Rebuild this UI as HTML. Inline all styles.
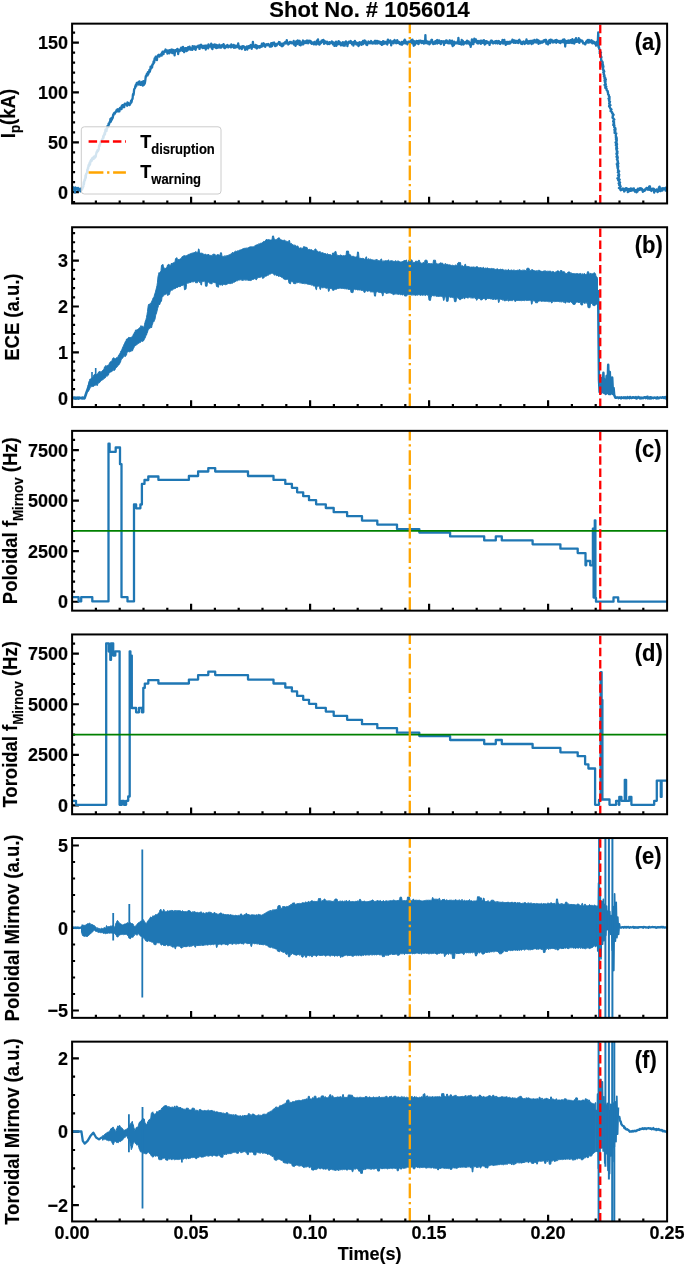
<!DOCTYPE html>
<html><head><meta charset="utf-8"><style>
html,body{margin:0;padding:0;background:#fff;}
svg{display:block;will-change:transform;}
</style></head><body>
<svg width="685" height="1265" viewBox="0 0 685 1265" font-family="'Liberation Sans', sans-serif" font-weight="bold"><style>text{stroke:#000;stroke-width:0.15px;}</style>
<rect width="685" height="1265" fill="#fff"/>
<defs>
<clipPath id="c0"><rect x="72.1" y="23.65" width="595" height="179.8"/></clipPath>
<clipPath id="c1"><rect x="72.1" y="227.25" width="595" height="179.8"/></clipPath>
<clipPath id="c2"><rect x="72.1" y="430.85" width="595" height="179.8"/></clipPath>
<clipPath id="c3"><rect x="72.1" y="634.45" width="595" height="179.8"/></clipPath>
<clipPath id="c4"><rect x="72.1" y="838.05" width="595" height="179.8"/></clipPath>
<clipPath id="c5"><rect x="72.1" y="1041.65" width="595" height="179.8"/></clipPath>
</defs>
<path d="M72.1 192.15h6.8 M72.1 142.3h6.8 M72.1 92.4h6.8 M72.1 42.65h6.8 M72.1 202.12h3.0 M72.1 182.18h3.0 M72.1 172.22h3.0 M72.1 162.25h3.0 M72.1 152.28h3.0 M72.1 132.35h3.0 M72.1 122.38h3.0 M72.1 112.41h3.0 M72.1 102.45h3.0 M72.1 82.51h3.0 M72.1 72.55h3.0 M72.1 62.58h3.0 M72.1 52.61h3.0 M72.1 32.68h3.0 M95.9 203.45v-3.0 M119.7 203.45v-3.0 M143.5 203.45v-3.0 M167.3 203.45v-3.0 M191.1 203.45v-6.8 M214.9 203.45v-3.0 M238.7 203.45v-3.0 M262.5 203.45v-3.0 M286.3 203.45v-3.0 M310.1 203.45v-6.8 M333.9 203.45v-3.0 M357.7 203.45v-3.0 M381.5 203.45v-3.0 M405.3 203.45v-3.0 M429.1 203.45v-6.8 M452.9 203.45v-3.0 M476.7 203.45v-3.0 M500.5 203.45v-3.0 M524.3 203.45v-3.0 M548.1 203.45v-6.8 M571.9 203.45v-3.0 M595.7 203.45v-3.0 M619.5 203.45v-3.0 M643.3 203.45v-3.0" stroke="#000" stroke-width="2.2" fill="none"/>
<path d="M72.1 398.24h6.8 M72.1 352.36h6.8 M72.1 306.48h6.8 M72.1 260.6h6.8 M72.1 389.06h3.0 M72.1 379.89h3.0 M72.1 370.71h3.0 M72.1 361.54h3.0 M72.1 343.18h3.0 M72.1 334.01h3.0 M72.1 324.83h3.0 M72.1 315.66h3.0 M72.1 297.3h3.0 M72.1 288.13h3.0 M72.1 278.95h3.0 M72.1 269.78h3.0 M72.1 251.42h3.0 M72.1 242.25h3.0 M72.1 233.07h3.0 M95.9 407.05v-3.0 M119.7 407.05v-3.0 M143.5 407.05v-3.0 M167.3 407.05v-3.0 M191.1 407.05v-6.8 M214.9 407.05v-3.0 M238.7 407.05v-3.0 M262.5 407.05v-3.0 M286.3 407.05v-3.0 M310.1 407.05v-6.8 M333.9 407.05v-3.0 M357.7 407.05v-3.0 M381.5 407.05v-3.0 M405.3 407.05v-3.0 M429.1 407.05v-6.8 M452.9 407.05v-3.0 M476.7 407.05v-3.0 M500.5 407.05v-3.0 M524.3 407.05v-3.0 M548.1 407.05v-6.8 M571.9 407.05v-3.0 M595.7 407.05v-3.0 M619.5 407.05v-3.0 M643.3 407.05v-3.0" stroke="#000" stroke-width="2.2" fill="none"/>
<path d="M72.1 601.77h6.8 M72.1 551.2h6.8 M72.1 500.64h6.8 M72.1 450.07h6.8 M72.1 591.66h3.0 M72.1 581.54h3.0 M72.1 571.43h3.0 M72.1 561.32h3.0 M72.1 541.09h3.0 M72.1 530.98h3.0 M72.1 520.87h3.0 M72.1 510.75h3.0 M72.1 490.53h3.0 M72.1 480.41h3.0 M72.1 470.3h3.0 M72.1 460.19h3.0 M72.1 439.96h3.0 M95.9 610.65v-3.0 M119.7 610.65v-3.0 M143.5 610.65v-3.0 M167.3 610.65v-3.0 M191.1 610.65v-6.8 M214.9 610.65v-3.0 M238.7 610.65v-3.0 M262.5 610.65v-3.0 M286.3 610.65v-3.0 M310.1 610.65v-6.8 M333.9 610.65v-3.0 M357.7 610.65v-3.0 M381.5 610.65v-3.0 M405.3 610.65v-3.0 M429.1 610.65v-6.8 M452.9 610.65v-3.0 M476.7 610.65v-3.0 M500.5 610.65v-3.0 M524.3 610.65v-3.0 M548.1 610.65v-6.8 M571.9 610.65v-3.0 M595.7 610.65v-3.0 M619.5 610.65v-3.0 M643.3 610.65v-3.0" stroke="#000" stroke-width="2.2" fill="none"/>
<path d="M72.1 805.37h6.8 M72.1 754.8h6.8 M72.1 704.24h6.8 M72.1 653.67h6.8 M72.1 795.26h3.0 M72.1 785.14h3.0 M72.1 775.03h3.0 M72.1 764.92h3.0 M72.1 744.69h3.0 M72.1 734.58h3.0 M72.1 724.47h3.0 M72.1 714.35h3.0 M72.1 694.13h3.0 M72.1 684.01h3.0 M72.1 673.9h3.0 M72.1 663.79h3.0 M72.1 643.56h3.0 M95.9 814.25v-3.0 M119.7 814.25v-3.0 M143.5 814.25v-3.0 M167.3 814.25v-3.0 M191.1 814.25v-6.8 M214.9 814.25v-3.0 M238.7 814.25v-3.0 M262.5 814.25v-3.0 M286.3 814.25v-3.0 M310.1 814.25v-6.8 M333.9 814.25v-3.0 M357.7 814.25v-3.0 M381.5 814.25v-3.0 M405.3 814.25v-3.0 M429.1 814.25v-6.8 M452.9 814.25v-3.0 M476.7 814.25v-3.0 M500.5 814.25v-3.0 M524.3 814.25v-3.0 M548.1 814.25v-6.8 M571.9 814.25v-3.0 M595.7 814.25v-3.0 M619.5 814.25v-3.0 M643.3 814.25v-3.0" stroke="#000" stroke-width="2.2" fill="none"/>
<path d="M72.1 1010.5h6.8 M72.1 928h6.8 M72.1 845.5h6.8 M72.1 994h3.0 M72.1 977.5h3.0 M72.1 961h3.0 M72.1 944.5h3.0 M72.1 911.5h3.0 M72.1 895h3.0 M72.1 878.5h3.0 M72.1 862h3.0 M95.9 1017.85v-3.0 M119.7 1017.85v-3.0 M143.5 1017.85v-3.0 M167.3 1017.85v-3.0 M191.1 1017.85v-6.8 M214.9 1017.85v-3.0 M238.7 1017.85v-3.0 M262.5 1017.85v-3.0 M286.3 1017.85v-3.0 M310.1 1017.85v-6.8 M333.9 1017.85v-3.0 M357.7 1017.85v-3.0 M381.5 1017.85v-3.0 M405.3 1017.85v-3.0 M429.1 1017.85v-6.8 M452.9 1017.85v-3.0 M476.7 1017.85v-3.0 M500.5 1017.85v-3.0 M524.3 1017.85v-3.0 M548.1 1017.85v-6.8 M571.9 1017.85v-3.0 M595.7 1017.85v-3.0 M619.5 1017.85v-3.0 M643.3 1017.85v-3.0" stroke="#000" stroke-width="2.2" fill="none"/>
<path d="M72.1 1205.03h6.8 M72.1 1131.67h6.8 M72.1 1058.3h6.8 M72.1 1186.69h3.0 M72.1 1168.35h3.0 M72.1 1150.01h3.0 M72.1 1113.33h3.0 M72.1 1094.99h3.0 M72.1 1076.65h3.0 M95.9 1221.45v-3.0 M119.7 1221.45v-3.0 M143.5 1221.45v-3.0 M167.3 1221.45v-3.0 M191.1 1221.45v-6.8 M214.9 1221.45v-3.0 M238.7 1221.45v-3.0 M262.5 1221.45v-3.0 M286.3 1221.45v-3.0 M310.1 1221.45v-6.8 M333.9 1221.45v-3.0 M357.7 1221.45v-3.0 M381.5 1221.45v-3.0 M405.3 1221.45v-3.0 M429.1 1221.45v-6.8 M452.9 1221.45v-3.0 M476.7 1221.45v-3.0 M500.5 1221.45v-3.0 M524.3 1221.45v-3.0 M548.1 1221.45v-6.8 M571.9 1221.45v-3.0 M595.7 1221.45v-3.0 M619.5 1221.45v-3.0 M643.3 1221.45v-3.0" stroke="#000" stroke-width="2.2" fill="none"/>
<polyline clip-path="url(#c0)" fill="none" stroke="#1f77b4" stroke-width="2.3" stroke-linejoin="round"  points="72.6,187.59 72.9,189.49 73.2,189.22 73.5,187.41 73.8,189.95 74.1,189.33 74.4,188.79 74.7,188.58 75,192.51 75.3,188.91 75.6,187.5 75.9,188.37 76.2,188.93 76.5,188.92 76.8,189.22 77.1,188.25 77.4,189.84 77.7,188.82 78,187.94 78.3,188.48 78.6,188.92 78.9,190.15 79.2,189.78 79.5,188.96 79.8,189.32 80.1,189.52 80.4,191.34 80.7,188.68 81,189.77 81.3,190.03 81.6,188.89 81.9,189.69 82.2,188.99 82.5,188.54 82.8,187.31 83.1,186.82 83.4,186.35 83.7,182.17 84,184.12 84.3,180.89 84.6,179.54 84.9,180.68 85.2,178.77 85.5,175.45 85.8,177.88 86.1,173.81 86.4,173.79 86.7,172.98 87,172.68 87.3,169.74 87.6,170.72 87.9,167.75 88.2,168.48 88.5,165.48 88.8,164.71 89.1,165.87 89.4,163.56 89.7,162.55 90,164.57 90.3,162.43 90.6,160.62 90.9,161.51 91.2,159.54 91.5,161.09 91.8,160.65 92.1,158.34 92.4,158.07 92.7,159.07 93,158.77 93.3,157.31 93.6,158.99 93.9,156.57 94.2,157.87 94.5,157.32 94.8,157.13 95.1,157.52 95.4,155.78 95.7,156.74 96,154.76 96.3,153.41 96.6,152.13 96.9,151.5 97.2,152.18 97.5,150.16 97.8,150.48 98.1,150.83 98.4,150.01 98.7,149.64 99,146.63 99.3,145.2 99.6,146.07 99.9,144.27 100.2,144.06 100.5,142.03 100.8,142.4 101.1,142.09 101.4,140.98 101.7,140.28 102,139.93 102.3,139.22 102.6,138.66 102.9,138.63 103.2,136.08 103.5,137.9 103.8,135.26 104.1,135.58 104.4,133.69 104.7,132.63 105,134.29 105.3,130.9 105.6,129.32 105.9,129.5 106.2,129.4 106.5,131.21 106.8,128.94 107.1,128.65 107.4,126.13 107.7,126.82 108,126.11 108.3,126.88 108.6,123.6 108.9,124.47 109.2,123.75 109.5,122.17 109.8,122.46 110.1,121.68 110.4,119.03 110.7,121.98 111,121.08 111.3,119.56 111.6,117.79 111.9,119.7 112.2,118.39 112.5,118.13 112.8,117.6 113.1,114.91 113.4,115.57 113.7,113.67 114,113.74 114.3,112.84 114.6,112.77 114.9,113.67 115.2,112.69 115.5,112.02 115.8,111.81 116.1,111.93 116.4,110.41 116.7,110.29 117,110.2 117.3,109.43 117.6,110.07 117.9,109.32 118.2,111.47 118.5,110.72 118.8,109.98 119.1,109.24 119.4,111.38 119.7,108.79 120,107.92 120.3,108.47 120.6,108.17 120.9,108.75 121.2,107.22 121.5,109.19 121.8,105.93 122.1,107.55 122.4,105.16 122.7,107.42 123,105.24 123.3,105.27 123.6,105.92 123.9,106.06 124.2,107.18 124.5,104.29 124.8,103.57 125.1,104.67 125.4,104.43 125.7,104.05 126,103.9 126.3,104.36 126.6,104.12 126.9,105.06 127.2,105.74 127.5,102.45 127.8,104.4 128.1,103.73 128.4,104.54 128.7,103.1 129,104.13 129.3,103.66 129.6,105.02 129.9,104.46 130.2,103.49 130.5,103.62 130.8,102.47 131.1,100.7 131.4,102.39 131.7,101.45 132,99.38 132.3,99.36 132.6,98.53 132.9,94.84 133.2,93.91 133.5,94.95 133.8,93.09 134.1,89.67 134.4,88.81 134.7,88.46 135,88.03 135.3,86.23 135.6,86.75 135.9,84.73 136.2,84.49 136.5,85.62 136.8,82.93 137.1,82.97 137.4,83.36 137.7,83.75 138,82.64 138.3,82.84 138.6,81.89 138.9,84.56 139.2,83.32 139.5,81.34 139.8,82.36 140.1,83.29 140.4,83.63 140.7,84.9 141,84.82 141.3,82.85 141.6,83.47 141.9,81.88 142.2,83.24 142.5,82.87 142.8,85.7 143.1,83.05 143.4,81.21 143.7,83.27 144,84.75 144.3,83.39 144.6,83.86 144.9,82.87 145.2,81.03 145.5,78.64 145.8,76.13 146.1,76.81 146.4,75.09 146.7,74.47 147,73.65 147.3,74.37 147.6,75.32 147.9,72.14 148.2,73.08 148.5,73.68 148.8,72.3 149.1,72.14 149.4,69.95 149.7,71.89 150,70.97 150.3,69.75 150.6,66.73 150.9,66.71 151.2,68.1 151.5,68.2 151.8,66.46 152.1,67.27 152.4,64.47 152.7,64.72 153,64.41 153.3,63.66 153.6,61.44 153.9,62.91 154.2,62.38 154.5,59.17 154.8,58.2 155.1,59.39 155.4,58.81 155.7,56.72 156,59.51 156.3,58.78 156.6,57.86 156.9,60.03 157.2,57.31 157.5,56.1 157.8,56.7 158.1,55.36 158.4,55.05 158.7,55.95 159,54.75 159.3,54.95 159.6,56.54 159.9,55.38 160.2,55.3 160.5,54.84 160.8,54.61 161.1,55.26 161.4,53.54 161.7,55.66 162,52.79 162.3,53.02 162.6,51.55 162.9,52.21 163.2,53.03 163.5,54.16 163.8,51.56 164.1,52.01 164.4,51.53 164.7,51.19 165,50.58 165.3,51.74 165.6,49.52 165.9,51.58 166.2,51.31 166.5,50.75 166.8,50.65 167.1,50.49 167.4,53.61 167.7,50.57 168,53.22 168.3,52.16 168.6,51.11 168.9,50.37 169.2,52.53 169.5,53.24 169.8,50.26 170.1,50.9 170.4,52.14 170.7,51.03 171,52.13 171.3,49.71 171.6,51.05 171.9,49.75 172.2,53.06 172.5,50.59 172.8,49.74 173.1,51.48 173.4,51.5 173.7,53 174,50.39 174.3,50.95 174.6,55.33 174.9,51.95 175.2,50.13 175.5,51.22 175.8,51.03 176.1,50.13 176.4,50.2 176.7,49.98 177,49.14 177.3,51.42 177.6,48.94 177.9,51.39 178.2,54.02 178.5,50.57 178.8,49.93 179.1,50.52 179.4,50.83 179.7,51.11 180,50.22 180.3,50.48 180.6,48.68 180.9,49.47 181.2,47.59 181.5,49.89 181.8,49.08 182.1,48.76 182.4,50.75 182.7,50.55 183,46.89 183.3,49.56 183.6,48.13 183.9,50.67 184.2,52.15 184.5,48.7 184.8,48.78 185.1,48.11 185.4,49.07 185.7,49.79 186,50.63 186.3,48.24 186.6,51.11 186.9,48.5 187.2,49.82 187.5,50.33 187.8,49.33 188.1,47.07 188.4,47.53 188.7,47.57 189,48 189.3,49.45 189.6,46.66 189.9,48.48 190.2,48.92 190.5,48.73 190.8,48.54 191.1,49.72 191.4,48.47 191.7,48.9 192,48.52 192.3,49.83 192.6,46.1 192.9,48.91 193.2,47.38 193.5,47.39 193.8,47.2 194.1,46.4 194.4,47.63 194.7,46.95 195,49.07 195.3,46.75 195.6,49.84 195.9,48.23 196.2,47.81 196.5,47.02 196.8,47.08 197.1,46.38 197.4,46.71 197.7,47.13 198,47.13 198.3,45.61 198.6,46.99 198.9,46.32 199.2,47.13 199.5,48.96 199.8,47.29 200.1,46.19 200.4,44.86 200.7,44.87 201,44.67 201.3,47.26 201.6,45.53 201.9,46.51 202.2,45.73 202.5,46.43 202.8,48.18 203.1,45.97 203.4,46.42 203.7,46.09 204,47.83 204.3,46 204.6,45.92 204.9,45.58 205.2,45.62 205.5,47.28 205.8,49.51 206.1,45.61 206.4,47.56 206.7,47.01 207,45.71 207.3,46.35 207.6,46.23 207.9,45.39 208.2,48.36 208.5,44.29 208.8,46.15 209.1,45.86 209.4,45.38 209.7,45.79 210,46.65 210.3,45.63 210.6,45.88 210.9,46.63 211.2,43.74 211.5,46.86 211.8,48.23 212.1,46.89 212.4,49.12 212.7,44.79 213,45.73 213.3,44.82 213.6,45.6 213.9,46.96 214.2,45.41 214.5,45.98 214.8,44.45 215.1,46.47 215.4,47.53 215.7,46.11 216,45.82 216.3,48.16 216.6,44.78 216.9,45.07 217.2,45.47 217.5,46.86 217.8,47.69 218.1,46.18 218.4,45.65 218.7,45.62 219,47.06 219.3,44.68 219.6,47.47 219.9,47.5 220.2,46.17 220.5,46.12 220.8,46.62 221.1,47.61 221.4,45.42 221.7,47.34 222,45.83 222.3,45.09 222.6,46.2 222.9,46.09 223.2,44.99 223.5,44.19 223.8,44.69 224.1,47.26 224.4,48.17 224.7,47.22 225,48.17 225.3,46.45 225.6,46.75 225.9,47.33 226.2,45.58 226.5,45.79 226.8,46.6 227.1,45.57 227.4,45 227.7,46.61 228,46.04 228.3,47.43 228.6,46.42 228.9,45.95 229.2,46.57 229.5,46.04 229.8,45.63 230.1,45.85 230.4,46.77 230.7,46.85 231,47.42 231.3,44.37 231.6,45.74 231.9,45.24 232.2,45.86 232.5,45.58 232.8,45.49 233.1,47 233.4,46.46 233.7,44.98 234,47.89 234.3,47.43 234.6,45.86 234.9,47.05 235.2,45.64 235.5,47.63 235.8,46.49 236.1,45.88 236.4,46.56 236.7,45.81 237,47.14 237.3,47.14 237.6,47.05 237.9,46.58 238.2,43.45 238.5,47.04 238.8,45.56 239.1,47.71 239.4,48.61 239.7,47.38 240,46.76 240.3,47.38 240.6,47.72 240.9,47.23 241.2,46.78 241.5,46.62 241.8,49.04 242.1,47.19 242.4,48 242.7,46.27 243,46.28 243.3,46.25 243.6,46.97 243.9,47.3 244.2,47.33 244.5,46.69 244.8,47.22 245.1,49.89 245.4,48 245.7,47.41 246,49.07 246.3,48.69 246.6,47.82 246.9,46.53 247.2,49.49 247.5,47.39 247.8,47.77 248.1,47.33 248.4,46.09 248.7,46.29 249,48.06 249.3,47.73 249.6,47.32 249.9,46.15 250.2,45.34 250.5,46.42 250.8,45.02 251.1,47.32 251.4,47.24 251.7,48.73 252,46.84 252.3,45.51 252.6,44.58 252.9,41.91 253.2,44.87 253.5,45.7 253.8,46.77 254.1,46.51 254.4,46.8 254.7,46.29 255,46.75 255.3,47.43 255.6,44.95 255.9,46.03 256.2,45.32 256.5,48.2 256.8,48.51 257.1,48.13 257.4,45.92 257.7,47.1 258,46.49 258.3,46.95 258.6,46.55 258.9,47.15 259.2,46.08 259.5,47.71 259.8,47.07 260.1,46.62 260.4,46.14 260.7,45.78 261,46.97 261.3,45.98 261.6,46.45 261.9,43.59 262.2,43.78 262.5,46.42 262.8,44.32 263.1,45.74 263.4,45.5 263.7,43.28 264,44.39 264.3,44.88 264.6,44.69 264.9,44.39 265.2,46.85 265.5,45.42 265.8,45.72 266.1,44.81 266.4,44.87 266.7,44.3 267,45.1 267.3,45.24 267.6,44.88 267.9,44.46 268.2,43.95 268.5,45.18 268.8,45.09 269.1,44.66 269.4,44.8 269.7,46.5 270,46.5 270.3,45.53 270.6,46.6 270.9,46.68 271.2,43.23 271.5,45.43 271.8,44.23 272.1,46.1 272.4,44.02 272.7,42.83 273,43.52 273.3,43.92 273.6,43.11 273.9,43.53 274.2,42.51 274.5,43.89 274.8,45.28 275.1,46.11 275.4,44.9 275.7,44.24 276,45.32 276.3,44.98 276.6,45.51 276.9,44.71 277.2,43.62 277.5,44.2 277.8,43.96 278.1,43.59 278.4,43.38 278.7,43.08 279,42.02 279.3,43.45 279.6,42.07 279.9,44.93 280.2,45.02 280.5,43.32 280.8,45.37 281.1,45.42 281.4,44.8 281.7,46.08 282,46.23 282.3,43.55 282.6,45.97 282.9,45.23 283.2,44.64 283.5,45.12 283.8,43.51 284.1,43.29 284.4,42.81 284.7,42.66 285,42.78 285.3,41.92 285.6,42 285.9,43.57 286.2,42.67 286.5,42.88 286.8,40.15 287.1,41.86 287.4,42.04 287.7,43.01 288,42.86 288.3,44.49 288.6,43.16 288.9,43.52 289.2,42.96 289.5,43.47 289.8,42.04 290.1,42.75 290.4,42.15 290.7,41.89 291,42.03 291.3,42.73 291.6,43.26 291.9,43.14 292.2,42.88 292.5,43.16 292.8,42.35 293.1,43.4 293.4,42.53 293.7,40.97 294,44.67 294.3,43.7 294.6,42.39 294.9,44.03 295.2,43.33 295.5,45.89 295.8,43.78 296.1,41.44 296.4,43.29 296.7,42.46 297,44.22 297.3,41.17 297.6,40.47 297.9,42.82 298.2,42.32 298.5,42.45 298.8,40.89 299.1,43.44 299.4,44.71 299.7,40.82 300,43.96 300.3,42.3 300.6,45.44 300.9,43.23 301.2,42.87 301.5,44.09 301.8,43.64 302.1,42.04 302.4,44.3 302.7,41.5 303,40.52 303.3,44.45 303.6,42.49 303.9,41.6 304.2,43.1 304.5,41.29 304.8,41.46 305.1,42.29 305.4,41.94 305.7,41.79 306,43.1 306.3,41.02 306.6,41.91 306.9,42.24 307.2,40.51 307.5,42.37 307.8,41.6 308.1,43.36 308.4,42.91 308.7,42.42 309,40.72 309.3,42.2 309.6,40.84 309.9,41.93 310.2,41.59 310.5,41.04 310.8,43.05 311.1,43.14 311.4,41.87 311.7,43.77 312,43.01 312.3,42.94 312.6,43.48 312.9,42.62 313.2,42.59 313.5,42.7 313.8,44.33 314.1,44.08 314.4,41.94 314.7,44.08 315,42.36 315.3,42.84 315.6,43.01 315.9,42.41 316.2,44.48 316.5,42.44 316.8,40.67 317.1,43.01 317.4,41.68 317.7,42 318,39.37 318.3,43.59 318.6,44.13 318.9,43.87 319.2,44.09 319.5,44.5 319.8,43.09 320.1,43.84 320.4,41.84 320.7,41.67 321,43.09 321.3,42.32 321.6,40.67 321.9,41.75 322.2,41.14 322.5,40.52 322.8,41.81 323.1,41.15 323.4,39.81 323.7,40.27 324,43.78 324.3,40.93 324.6,42.74 324.9,42.91 325.2,43.12 325.5,41.51 325.8,42.26 326.1,42.38 326.4,43.24 326.7,41.86 327,41.78 327.3,43.71 327.6,44.14 327.9,43.53 328.2,42.69 328.5,43.94 328.8,43.76 329.1,44.13 329.4,42.13 329.7,43.36 330,43.48 330.3,42.46 330.6,42.87 330.9,42.47 331.2,42.14 331.5,42.99 331.8,41.39 332.1,42.56 332.4,43.33 332.7,43.32 333,44.37 333.3,42.54 333.6,42.38 333.9,43.9 334.2,44.08 334.5,45.96 334.8,44.49 335.1,42.79 335.4,44.12 335.7,42.46 336,41.68 336.3,45.81 336.6,43.08 336.9,43.7 337.2,43.54 337.5,44.45 337.8,42.76 338.1,43.98 338.4,41.46 338.7,41.1 339,44.04 339.3,43.89 339.6,43.22 339.9,42.71 340.2,42.71 340.5,42.56 340.8,45.28 341.1,44.21 341.4,44.46 341.7,44.31 342,45.24 342.3,44.79 342.6,44.25 342.9,42.13 343.2,43.84 343.5,45.67 343.8,42.98 344.1,43.2 344.4,43.95 344.7,45.71 345,43.91 345.3,41.79 345.6,43.49 345.9,41.31 346.2,42.01 346.5,43.48 346.8,42.51 347.1,43.62 347.4,46.08 347.7,43.73 348,43.98 348.3,42.13 348.6,42.49 348.9,41.74 349.2,42.52 349.5,41.6 349.8,41.9 350.1,42.77 350.4,42 350.7,41.05 351,41.33 351.3,43.09 351.6,43.1 351.9,44.21 352.2,44.05 352.5,42.84 352.8,44 353.1,42.04 353.4,45.56 353.7,44.1 354,42.68 354.3,41.66 354.6,43.06 354.9,40.83 355.2,41.75 355.5,43.53 355.8,43.02 356.1,42.75 356.4,44.44 356.7,42.58 357,44.52 357.3,43.65 357.6,43.24 357.9,44.44 358.2,43.19 358.5,46.2 358.8,43.16 359.1,45.04 359.4,42.28 359.7,43.98 360,42.4 360.3,43.67 360.6,43.08 360.9,44.17 361.2,42.4 361.5,44.94 361.8,42.29 362.1,43.19 362.4,43.23 362.7,43.55 363,40.96 363.3,44.2 363.6,42.99 363.9,42.29 364.2,41.35 364.5,40.56 364.8,40.68 365.1,42.74 365.4,42.26 365.7,41.35 366,42.38 366.3,44.67 366.6,43.09 366.9,42.96 367.2,45.01 367.5,43.82 367.8,43.38 368.1,42.46 368.4,41.52 368.7,41.73 369,42.51 369.3,42.45 369.6,43.2 369.9,43.26 370.2,43.04 370.5,43.1 370.8,41.97 371.1,41.03 371.4,42.83 371.7,42.68 372,43.36 372.3,43.51 372.6,42.37 372.9,42.68 373.2,43.27 373.5,43.41 373.8,42.18 374.1,42.74 374.4,42.11 374.7,40.91 375,41.95 375.3,43.61 375.6,40.89 375.9,42.74 376.2,43.4 376.5,43.25 376.8,41.03 377.1,43.55 377.4,41.36 377.7,40.93 378,41.34 378.3,41.88 378.6,41.78 378.9,41.63 379.2,43.38 379.5,41.74 379.8,41.61 380.1,43.22 380.4,43.74 380.7,44.02 381,42.17 381.3,44.05 381.6,43.64 381.9,44.88 382.2,41.92 382.5,42.99 382.8,42.82 383.1,41.05 383.4,42.07 383.7,43.97 384,42.35 384.3,41.74 384.6,43.27 384.9,42.72 385.2,43.16 385.5,41.97 385.8,42.76 386.1,43.68 386.4,41.97 386.7,41.84 387,43.93 387.3,44.46 387.6,41.06 387.9,39.55 388.2,41.12 388.5,41.66 388.8,42.38 389.1,42.58 389.4,41.84 389.7,40.94 390,41.76 390.3,40.32 390.6,41.42 390.9,41.46 391.2,45.37 391.5,43.4 391.8,42.42 392.1,42.34 392.4,42.87 392.7,41.35 393,41.83 393.3,41.22 393.6,43.4 393.9,41.38 394.2,40.52 394.5,40.07 394.8,40.38 395.1,41.55 395.4,41.8 395.7,42.78 396,41.78 396.3,43.24 396.6,42.49 396.9,42.12 397.2,40.1 397.5,40.81 397.8,42.68 398.1,42.95 398.4,42.39 398.7,43.02 399,41.85 399.3,42.29 399.6,42.45 399.9,43.96 400.2,43.53 400.5,43.33 400.8,43.33 401.1,44.41 401.4,43.68 401.7,41.91 402,44.73 402.3,43.09 402.6,42.46 402.9,43.67 403.2,43.07 403.5,41.74 403.8,42.47 404.1,40.72 404.4,41.23 404.7,39.67 405,43.32 405.3,40.4 405.6,43.32 405.9,41.83 406.2,41.85 406.5,42.6 406.8,43 407.1,43.03 407.4,44.37 407.7,42.89 408,43.24 408.3,41.68 408.6,42.91 408.9,42.22 409.2,41.68 409.5,42.01 409.8,41.86 410.1,41.79 410.4,41.94 410.7,40.75 411,40.47 411.3,42.34 411.6,39.79 411.9,40.75 412.2,43.25 412.5,39.53 412.8,42.05 413.1,43.44 413.4,41.1 413.7,45.73 414,41.12 414.3,45.34 414.6,45.15 414.9,44.57 415.2,43.3 415.5,43.42 415.8,41.65 416.1,42.87 416.4,40.89 416.7,41.68 417,43.33 417.3,41.16 417.6,42.12 417.9,42.6 418.2,41.39 418.5,44.14 418.8,43.18 419.1,40.64 419.4,41.94 419.7,41.04 420,41.31 420.3,41.96 420.6,40.72 420.9,42.42 421.2,40.94 421.5,43.09 421.8,42.13 422.1,42.86 422.4,41.06 422.7,41.07 423,40.85 423.3,42.1 423.6,42.28 423.9,43.63 424.2,42.78 424.5,41.95 424.8,41.73 425.1,41.98 425.4,35.15 425.7,43.17 426,42.57 426.3,40.69 426.6,40.89 426.9,43.01 427.2,42.09 427.5,41.76 427.8,43.48 428.1,42.14 428.4,42.68 428.7,42.87 429,41.62 429.3,44.27 429.6,41.97 429.9,42.89 430.2,42.22 430.5,43.48 430.8,42.32 431.1,42.03 431.4,39.99 431.7,41.42 432,39.85 432.3,42.12 432.6,42.35 432.9,42.06 433.2,44.16 433.5,42.84 433.8,43.19 434.1,42.69 434.4,42.29 434.7,43.61 435,43.76 435.3,41.07 435.6,43.42 435.9,42.48 436.2,42.72 436.5,42.37 436.8,40.33 437.1,40.08 437.4,43.55 437.7,42.43 438,41 438.3,42.88 438.6,41.81 438.9,40.34 439.2,40.36 439.5,41.16 439.8,43.03 440.1,43.04 440.4,43.28 440.7,44.03 441,43.95 441.3,41.08 441.6,42.69 441.9,41.82 442.2,41.36 442.5,41.67 442.8,41.75 443.1,42.25 443.4,41.23 443.7,42.18 444,44.97 444.3,41.93 444.6,41.45 444.9,43.08 445.2,42.94 445.5,42.56 445.8,40.72 446.1,42.68 446.4,40.92 446.7,40.39 447,41.21 447.3,42.29 447.6,43.11 447.9,42.97 448.2,42.33 448.5,43.12 448.8,42.22 449.1,43.45 449.4,40.61 449.7,40.33 450,42.99 450.3,40.94 450.6,41.8 450.9,42.22 451.2,41.64 451.5,42.39 451.8,44.28 452.1,40.62 452.4,43.86 452.7,46.06 453,43.19 453.3,43.36 453.6,43.77 453.9,45.09 454.2,41.65 454.5,42.82 454.8,42.68 455.1,43.4 455.4,43.1 455.7,43.42 456,42.5 456.3,43.43 456.6,42.86 456.9,42.43 457.2,42.57 457.5,41.96 457.8,41.18 458.1,43.51 458.4,37.78 458.7,40.59 459,43.76 459.3,42.38 459.6,43.93 459.9,43.02 460.2,43.48 460.5,43.17 460.8,42.18 461.1,42.42 461.4,44.54 461.7,39.92 462,42.32 462.3,42.47 462.6,40.98 462.9,40.96 463.2,44.48 463.5,41.77 463.8,44.24 464.1,42.88 464.4,42.48 464.7,42.97 465,42.98 465.3,42.98 465.6,41.9 465.9,42 466.2,42.13 466.5,43.49 466.8,42.88 467.1,40.71 467.4,41.94 467.7,43.46 468,42.46 468.3,42.32 468.6,41.33 468.9,42.15 469.2,43.73 469.5,44.14 469.8,43.04 470.1,45.21 470.4,42.89 470.7,46.8 471,44.14 471.3,43.01 471.6,41.91 471.9,39.5 472.2,42.14 472.5,42.77 472.8,44.06 473.1,40.74 473.4,44.08 473.7,41.71 474,42.21 474.3,38.58 474.6,41.06 474.9,40.34 475.2,41.35 475.5,40.39 475.8,39.35 476.1,41.81 476.4,42.26 476.7,41.94 477,42.6 477.3,43.18 477.6,42.36 477.9,40.92 478.2,41.17 478.5,43.39 478.8,42.82 479.1,42.07 479.4,41.41 479.7,41.99 480,41.75 480.3,40.8 480.6,40.63 480.9,43.86 481.2,42.07 481.5,41.3 481.8,40.66 482.1,41.14 482.4,42.73 482.7,42.74 483,41.51 483.3,41.45 483.6,40.9 483.9,40.13 484.2,43.63 484.5,41.93 484.8,44.51 485.1,41.15 485.4,42.44 485.7,43.78 486,42.7 486.3,41.25 486.6,41.91 486.9,42.52 487.2,42.85 487.5,41.66 487.8,43.1 488.1,43.03 488.4,42.71 488.7,42.47 489,42.37 489.3,43.67 489.6,44.92 489.9,43.44 490.2,43.41 490.5,42.2 490.8,40.83 491.1,40.56 491.4,42 491.7,41.12 492,42.23 492.3,40.93 492.6,42.2 492.9,43.41 493.2,43.44 493.5,42.07 493.8,42.54 494.1,42.81 494.4,41.92 494.7,42.69 495,42.9 495.3,41.11 495.6,43.33 495.9,41.58 496.2,41.58 496.5,41.39 496.8,41 497.1,41.93 497.4,41.55 497.7,43.48 498,42.58 498.3,42.78 498.6,41.81 498.9,40.96 499.2,42.46 499.5,42.14 499.8,43.69 500.1,42.25 500.4,43.97 500.7,43.07 501,42.93 501.3,42.02 501.6,41.73 501.9,41.8 502.2,41.98 502.5,40 502.8,41.35 503.1,43.66 503.4,41.02 503.7,40.77 504,40.43 504.3,39.87 504.6,43.08 504.9,42.11 505.2,42.17 505.5,44.34 505.8,44.85 506.1,41.98 506.4,43.62 506.7,42.21 507,42.38 507.3,42.87 507.6,41.83 507.9,43.8 508.2,42.46 508.5,42.35 508.8,43.53 509.1,42.46 509.4,41.78 509.7,41.91 510,43.56 510.3,42.38 510.6,42.26 510.9,41.66 511.2,42.37 511.5,41.15 511.8,41.99 512.1,42.16 512.4,39.63 512.7,41.3 513,42.07 513.3,41.31 513.6,40.52 513.9,42.9 514.2,40.54 514.5,40.38 514.8,40.55 515.1,41.5 515.4,42.53 515.7,42.84 516,41.98 516.3,40.9 516.6,41.84 516.9,41.64 517.2,42.48 517.5,41.04 517.8,42.67 518.1,43.03 518.4,41.8 518.7,41.74 519,40.07 519.3,39.72 519.6,40.48 519.9,42.42 520.2,42.22 520.5,41.31 520.8,43.16 521.1,42.11 521.4,43.95 521.7,43.33 522,42.38 522.3,44.05 522.6,42.7 522.9,42.17 523.2,41.52 523.5,41.49 523.8,42.87 524.1,43.07 524.4,42.85 524.7,43.97 525,42.46 525.3,41.71 525.6,43.16 525.9,43.11 526.2,41.83 526.5,39.5 526.8,40.88 527.1,41.69 527.4,41.72 527.7,43.66 528,41.04 528.3,43.03 528.6,41.67 528.9,43.64 529.2,42.65 529.5,42.94 529.8,41.17 530.1,40.89 530.4,40.86 530.7,41.6 531,41.14 531.3,43.25 531.6,44.06 531.9,42.57 532.2,40.65 532.5,42.29 532.8,41.46 533.1,43.42 533.4,42.33 533.7,42.1 534,41.82 534.3,39.96 534.6,41.07 534.9,40.49 535.2,42.22 535.5,41.89 535.8,40.52 536.1,40.58 536.4,42.5 536.7,39.68 537,40.34 537.3,40.63 537.6,39.95 537.9,41.11 538.2,42.1 538.5,43.88 538.8,40.54 539.1,41.76 539.4,42.05 539.7,42.43 540,42.22 540.3,42.04 540.6,43.05 540.9,41.48 541.2,41.89 541.5,42.46 541.8,42.29 542.1,41.55 542.4,42.62 542.7,41.76 543,42.11 543.3,41.98 543.6,40.45 543.9,40.63 544.2,40.29 544.5,41.34 544.8,40.45 545.1,39.86 545.4,41.27 545.7,41.97 546,39.83 546.3,43.65 546.6,42.76 546.9,42.59 547.2,43.79 547.5,42.87 547.8,42.02 548.1,44.48 548.4,41.22 548.7,41.92 549,42.05 549.3,40.17 549.6,40.91 549.9,41.21 550.2,43.05 550.5,39.66 550.8,40.53 551.1,41.7 551.4,40.9 551.7,39.82 552,41.26 552.3,41.28 552.6,41.98 552.9,42.52 553.2,42.27 553.5,42.15 553.8,41.83 554.1,40.62 554.4,41.69 554.7,41.98 555,41.02 555.3,41.45 555.6,40.07 555.9,42.27 556.2,42.76 556.5,39.98 556.8,40.61 557.1,40.26 557.4,41.97 557.7,41.46 558,41.18 558.3,41.09 558.6,41.99 558.9,40.87 559.2,42.6 559.5,41.17 559.8,42.13 560.1,41.94 560.4,43.07 560.7,41.41 561,42.33 561.3,40.77 561.6,42.21 561.9,41.62 562.2,41.75 562.5,41.26 562.8,42.19 563.1,39.75 563.4,41.76 563.7,39.93 564,42.47 564.3,39.48 564.6,40.77 564.9,40.26 565.2,46.55 565.5,40.75 565.8,42.58 566.1,42.11 566.4,41.01 566.7,42.02 567,42.95 567.3,41.64 567.6,42.67 567.9,40.59 568.2,41.08 568.5,40.48 568.8,41.42 569.1,42.95 569.4,41.38 569.7,41.35 570,40.73 570.3,40.2 570.6,42.56 570.9,40.11 571.2,40.28 571.5,41.02 571.8,40.43 572.1,43.07 572.4,39.2 572.7,41.64 573,42.29 573.3,40.72 573.6,41.22 573.9,42.65 574.2,43.54 574.5,40.36 574.8,39.65 575.1,41.78 575.4,42.08 575.7,40.2 576,38.18 576.3,41.7 576.6,40.53 576.9,41.82 577.2,40.6 577.5,40.25 577.8,40.03 578.1,41.64 578.4,41.84 578.7,38.16 579,39.8 579.3,42.77 579.6,40.5 579.9,39.59 580.2,41.05 580.5,41.25 580.8,40.82 581.1,40.59 581.4,40.55 581.7,40.48 582,41.54 582.3,40.83 582.6,41.36 582.9,42.19 583.2,43.43 583.5,42.89 583.8,42.87 584.1,43.44 584.4,43.42 584.7,44.09 585,43.32 585.3,44.41 585.6,43.65 585.9,42.19 586.2,41.57 586.5,42.72 586.8,42.42 587.1,41.87 587.4,40.24 587.7,39.94 588,42.12 588.3,42.68 588.6,42.62 588.9,39.96 589.2,42.39 589.5,41.18 589.8,42.34 590.1,41.85 590.4,40.97 590.7,41.13 591,40.36 591.3,41.19 591.6,40.34 591.9,42.9 592.2,42.77 592.5,43.34 592.8,42.8 593.1,41.43 593.4,42.9 593.7,42.69 594,43.07 594.3,42.74 594.6,41.99 594.9,43.43 595.2,44.03 595.5,43.81 595.8,44.6 596.1,45.69 596.4,43.83 596.7,43.44 597,41.66 597.7,45 598.2,32.5 598.8,46.5 598.47,47 599.1,47.6 599.2,48.2 599.03,48.8 599.62,49.4 599.94,50 600.1,50.6 599.62,51.2 599.91,51.8 601,52.4 599.56,53 600.27,53.6 600.69,54.2 600.47,54.8 600.82,55.4 600.72,56 601.09,56.6 601.45,57.2 600.89,57.8 601.19,58.4 601.19,59 601.15,59.6 601.44,60.2 601.06,60.8 602.02,61.4 602.57,62 602.69,62.6 602.61,63.2 601.73,63.8 602.96,64.4 602.08,65 602.5,65.6 603.47,66.2 602.28,66.8 603.26,67.4 603.13,68 603.05,68.6 602.85,69.2 603.55,69.8 603.27,70.4 604.07,71 604.27,71.6 603.22,72.2 603.73,72.8 603.94,73.4 603.67,74 603.82,74.6 604.48,75.2 604.47,75.8 603.94,76.4 604.56,77 605.15,77.6 604.48,78.2 604.66,78.8 605.85,79.4 605.79,80 604.53,80.6 604.71,81.2 605.55,81.8 604.9,82.4 605.39,83 605.36,83.6 605.87,84.2 604.54,84.8 604.75,85.4 605.25,86 606.32,86.6 605.85,87.2 605.21,87.8 606.38,88.4 606.71,89 606.51,89.6 606.71,90.2 607.29,90.8 607.87,91.4 607.63,92 608.03,92.6 608,93.2 608.09,93.8 608.08,94.4 608.84,95 608.83,95.6 608.93,96.2 609.51,96.8 609.36,97.4 609.58,98 608.53,98.6 609.54,99.2 609.07,99.8 609.02,100.4 609.05,101 610.02,101.6 609.9,102.2 609.25,102.8 609.11,103.4 609.68,104 609.52,104.6 610.52,105.2 609.16,105.8 609.05,106.4 609.8,107 609.97,107.6 610.15,108.2 610.68,108.8 611.53,109.4 610.7,110 610.87,110.6 610.58,111.2 611.74,111.8 612.27,112.4 612.03,113 612.93,113.6 612.67,114.2 613.6,114.8 613.19,115.4 612.62,116 612.87,116.6 612.53,117.2 612.5,117.8 613.46,118.4 613.79,119 614.34,119.6 613.5,120.2 613.47,120.8 613.14,121.4 614.14,122 613.94,122.6 613.55,123.2 614.19,123.8 614.19,124.4 613.16,125 614.44,125.6 614.27,126.2 614.14,126.8 614.24,127.4 615.32,128 615.33,128.6 615.57,129.2 614.33,129.8 614.66,130.4 615.47,131 614.63,131.6 614.95,132.2 614.57,132.8 616.32,133.4 616.07,134 615.91,134.6 615.91,135.2 615.73,135.8 615.84,136.4 616.41,137 615.89,137.6 616.8,138.2 616.06,138.8 615.93,139.4 616.94,140 616.33,140.6 616.68,141.2 616.28,141.8 615.49,142.4 616.78,143 615.96,143.6 617.09,144.2 615.94,144.8 615.84,145.4 616.85,146 616.94,146.6 616.83,147.2 616.27,147.8 617.26,148.4 616.23,149 616.72,149.6 616.61,150.2 616.83,150.8 617.42,151.4 616.79,152 617.36,152.6 617.46,153.2 616.41,153.8 616.69,154.4 617.08,155 617.02,155.6 617.46,156.2 616.49,156.8 617.72,157.4 617.76,158 617.39,158.6 616.88,159.2 617.54,159.8 617.33,160.4 617.86,161 617.61,161.6 618.01,162.2 617.52,162.8 618.4,163.4 616.75,164 617.37,164.6 618.08,165.2 617.22,165.8 618.26,166.4 617.42,167 618.04,167.6 617.63,168.2 617.88,168.8 618.19,169.4 618.1,170 618.01,170.6 619.19,171.2 618.26,171.8 617.85,172.4 618.74,173 618.73,173.6 618.95,174.2 619.24,174.8 618.05,175.4 618.98,176 619.05,176.6 618.58,177.2 618.74,177.8 617.36,178.4 618.54,179 619.69,179.6 618.17,180.2 618.82,180.8 619.27,181.4 619.49,182 620.05,182.6 618.61,183.2 619.5,183.8 619.96,184.4 619.07,185 619.72,185.6 620.68,186.2 620.51,186.8 620.24,187.4 618.91,188 620.11,188.6 620.2,188.8 620.6,190.11 620.9,190.36 621.2,189.37 621.5,189.14 621.8,189.89 622.1,188.97 622.4,189.6 622.7,188.87 623,188.38 623.3,189.16 623.6,189.04 623.9,189.88 624.2,191.49 624.5,189.01 624.8,190.83 625.1,188.55 625.4,189.32 625.7,189.72 626,188.12 626.3,188.09 626.6,189.75 626.9,189.69 627.2,189.37 627.5,188.76 627.8,192.02 628.1,189.88 628.4,189.14 628.7,191.63 629,190.21 629.3,189.01 629.6,190.96 629.9,190.27 630.2,190.6 630.5,190.2 630.8,188.51 631.1,190.91 631.4,190.51 631.7,188.71 632,188.66 632.3,190.35 632.6,189.22 632.9,189.65 633.2,190.27 633.5,189.24 633.8,188.36 634.1,190.32 634.4,190.21 634.7,190.36 635,191.61 635.3,190.14 635.6,191.4 635.9,191.58 636.2,189.84 636.5,192.31 636.8,191.47 637.1,190.53 637.4,191.67 637.7,190.21 638,188.55 638.3,190.47 638.6,189.16 638.9,189.55 639.2,188.96 639.5,189.83 639.8,189.44 640.1,188.19 640.4,189.06 640.7,189.48 641,188.33 641.3,188.89 641.6,189.42 641.9,188.77 642.2,189.9 642.5,190.72 642.8,191.82 643.1,191.32 643.4,190.84 643.7,190.29 644,191.04 644.3,189.73 644.6,190.8 644.9,190.33 645.2,189.62 645.5,189.2 645.8,189.55 646.1,189.22 646.4,187.94 646.7,189.2 647,188.53 647.3,188.91 647.6,189.25 647.9,189.7 648.2,188.02 648.5,188.58 648.8,187.46 649.1,186.67 649.4,186.39 649.7,189.91 650,186.52 650.3,189.3 650.6,190.21 650.9,188.54 651.2,190.73 651.5,190.99 651.8,190.02 652.1,189.95 652.4,189.86 652.7,188.57 653,189.52 653.3,188.89 653.6,188.7 653.9,188.92 654.2,192.65 654.5,189.9 654.8,190.67 655.1,190.36 655.4,191.02 655.7,190.4 656,190.1 656.3,189.66 656.6,189.36 656.9,189.76 657.2,190.46 657.5,192.05 657.8,191.12 658.1,191.56 658.4,189.26 658.7,188.78 659,187.28 659.3,188.69 659.6,186.69 659.9,188.66 660.2,191.15 660.5,190.46 660.8,191.02 661.1,189.69 661.4,188.5 661.7,189.33 662,188.65 662.3,189.8 662.6,190.45 662.9,188.15 663.2,188.71 663.5,189.12 663.8,188.74 664.1,188.27 664.4,189.11 664.7,189.4 665,189.63 665.3,188.23 665.6,190.58 665.9,187.73 666.2,190.7 666.5,189.1 666.8,189.96 667.1,189.46 667.4,189.07"/>
<polyline clip-path="url(#c1)" fill="none" stroke="#1f77b4" stroke-width="2.6" stroke-linejoin="round"  points="72.6,397.88 73,397.59 73.4,397.83 73.8,397.98 74.2,397.69 74.6,398.4 75,397.69 75.4,398.55 75.8,398.29 76.2,397.74 76.6,398.06 77,398.37 77.4,397.96 77.8,397.66 78.2,398.05 78.6,398.62 79,397.57 79.4,398.19 79.8,398.02 80.2,397.98 80.6,397.9 81,397.92 81.4,398.33 81.8,398.2 82.2,397.72 82.6,398.49 83,397.63 83.4,398.22 83.8,398.08 84.2,398.38 84.6,398.13 86.5,392.5 88.5,387 90.2,381.5"/>
<polygon clip-path="url(#c1)" fill="#1f77b4" stroke="#1f77b4" stroke-width="1" stroke-linejoin="miter" points="88,385.84 88.5,384.77 89,382.12 89.5,380.45 90,378.87 90.5,379.33 91,378.44 91.5,378.38 92,378.05 92.5,377.4 93,376.89 93.5,375.36 94,374.86 94.5,374.36 95,374.07 95.5,374.25 96,374.79 96.5,374.47 97,374.33 97.5,373.87 98,373.8 98.5,372 99,371.76 99.5,371.51 100,371.26 100.5,371.88 101,372.18 101.5,372.12 102,370.95 102.5,370.46 103,370.04 103.5,369.62 104,369.21 104.5,366.89 105,366.48 105.5,366.06 106,365.45 106.5,366.61 107,366 107.5,365.39 108,365.59 108.5,364.87 109,364.51 109.5,362.98 110,362.37 110.5,361.76 111,361.15 111.5,361.21 112,361.26 112.5,358.65 113,358.31 113.5,357.98 114,357.65 114.5,358.29 115,359.34 115.5,358.83 116,358.01 116.5,357.79 117,357.81 117.5,357.17 118,357.18 118.5,355.37 119,355.36 119.5,353.93 120,353.23 120.5,352.27 121,350.69 121.5,350.56 122,349.15 122.5,347.97 123,346.77 123.5,345.76 124,344.23 124.5,343.99 125,342.37 125.5,341.34 126,340.77 126.5,339.07 127,339.2 127.5,338.71 128,338.25 128.5,337.42 129,337.34 129.5,337.49 130,337.28 130.5,337.58 131,337.61 131.5,337.08 132,336.93 132.5,336.1 133,335.38 133.5,334.05 134,333.59 134.5,332.2 135,332.55 135.5,330.22 136,329.73 136.5,330.91 137,329.59 137.5,330.07 138,328.99 138.5,328.81 139,328.25 139.5,327.8 140,327.52 140.5,327.11 141,325.59 141.5,326.66 142,326.13 142.5,326.29 143,326.53 143.5,327.04 144,327.24 144.5,324.55 145,322.55 145.5,320.55 146,319.46 146.5,317.41 147,314.59 147.5,311.66 148,307.15 148.5,304.51 149,304.23 149.5,303.94 150,305.66 150.5,303.25 151,303.3 151.5,302.08 152,300.93 152.5,299.59 153,298.17 153.5,297.43 154,296.93 154.5,294.9 155,293.28 155.5,291.97 156,289.54 156.5,287.86 157,285.47 157.5,282.18 158,276.8 158.5,274.7 159,272.6 159.5,273.72 160,272.14 160.5,271.85 161,270.68 161.5,265.3 162,264.97 162.5,264.64 163,264.31 163.5,267.7 164,267.37 164.5,269.33 165,268.57 165.5,268.36 166,268.05 166.5,267.98 167,267.02 167.5,265.06 168,264.73 168.5,264.4 169,264.08 169.5,265.97 170,265.37 170.5,265.38 171,264.3 171.5,263.07 172,264.45 172.5,263.17 173,263.28 173.5,262.8 174,262.78 174.5,262.16 175,262.35 175.5,258.63 176,258.3 176.5,257.97 177,257.64 177.5,260.64 178,260.08 178.5,259.11 179,259.72 179.5,259.39 180,259.18 180.5,258.83 181,258.38 181.5,257.73 182,256.71 182.5,256.49 183,256.2 183.5,255.9 184,255.71 184.5,255.52 185,256.29 185.5,255.93 186,255.38 186.5,255.8 187,255.4 187.5,255.12 188,254.84 188.5,254.43 189,254.61 189.5,254.03 190,253.84 190.5,253.65 191,253.46 191.5,253.34 192,253.27 192.5,253.03 193,253.26 193.5,252.72 194,252.33 194.5,252.49 195,252.55 195.5,251.75 196,251.52 196.5,252.45 197,252.46 197.5,252.29 198,252.28 198.5,248.92 199,249.05 199.5,252.71 200,252.47 200.5,253.88 201,253.02 201.5,253.15 202,253.27 202.5,253.4 203,253.52 203.5,253.93 204,254.73 204.5,254.41 205,254.11 205.5,254.03 206,254.61 206.5,255 207,254.86 207.5,254.66 208,255.11 208.5,254.06 209,255.12 209.5,255.39 210,255.05 210.5,255.39 211,255.47 211.5,255.42 212,255.38 212.5,255.15 213,254.13 213.5,254.19 214,254.25 214.5,254.31 215,254.37 215.5,255.21 216,255.6 216.5,256.13 217,254.62 217.5,254.66 218,254.7 218.5,254.74 219,254.78 219.5,255.25 220,255.29 220.5,252.76 221,252.8 221.5,252.84 222,256.44 222.5,256.45 223,256.49 223.5,256.38 224,256.79 224.5,256.19 225,255.47 225.5,256.67 226,256.57 226.5,255.64 227,255.53 227.5,255.59 228,255.17 228.5,255.17 229,255 229.5,254.84 230,254.57 230.5,254.02 231,254.17 231.5,253.44 232,253.64 232.5,252.21 233,252.94 233.5,253.09 234,252.32 234.5,251.89 235,251.41 235.5,251.19 236,251.66 236.5,250.96 237,251.6 237.5,250.63 238,251.23 238.5,250.88 239,250.55 239.5,250.04 240,249.87 240.5,249.97 241,249.62 241.5,249.63 242,249.07 242.5,248.96 243,249.05 243.5,248.47 244,248.38 244.5,248.34 245,248.37 245.5,248.02 246,248.82 246.5,248.27 247,247.6 247.5,248.55 248,248.34 248.5,247.57 249,246.97 249.5,247.08 250,246.99 250.5,246.81 251,246.64 251.5,247.03 252,246.48 252.5,246.99 253,247.02 253.5,246.69 254,246.61 254.5,246.15 255,245.96 255.5,245.27 256,245.1 256.5,244.91 257,245.06 257.5,244.54 258,244.68 258.5,244.39 259,243.55 259.5,244.1 260,243.86 260.5,243.92 261,242.79 261.5,243.53 262,242.78 262.5,242.83 263,241.98 263.5,241.4 264,241.54 264.5,241.55 265,240.81 265.5,240.58 266,240.01 266.5,239.12 267,239.85 267.5,239.88 268,239.67 268.5,239.47 269,240.18 269.5,239.79 270,239.96 270.5,240.11 271,239.69 271.5,240.04 272,239.87 272.5,236.02 273,235.97 273.5,235.93 274,238.31 274.5,239.27 275,239.35 275.5,239.79 276,239.66 276.5,239.42 277,239.8 277.5,238.77 278,237.96 278.5,237.91 279,237.87 279.5,237.93 280,239.64 280.5,239.74 281,239.49 281.5,240 282,239.92 282.5,240.37 283,240.15 283.5,240.38 284,240.15 284.5,240.17 285,240.31 285.5,240.87 286,241.54 286.5,241.28 287,241.67 287.5,241.57 288,241.88 288.5,242.37 289,240.24 289.5,240.5 290,242.75 290.5,243.71 291,243.64 291.5,243.43 292,244.42 292.5,244.55 293,244.59 293.5,245.28 294,245.22 294.5,244.9 295,245.64 295.5,245.28 296,245.86 296.5,246.34 297,246.97 297.5,245.87 298,246.11 298.5,247.74 299,247.63 299.5,248.22 300,247.93 300.5,247.83 301,248.15 301.5,247.88 302,248.51 302.5,248.55 303,248.08 303.5,246.64 304,246.72 304.5,246.81 305,246.89 305.5,246.98 306,249.09 306.5,247.28 307,247.37 307.5,249.08 308,249.53 308.5,249.54 309,249.56 309.5,249.25 310,250.1 310.5,249.87 311,249.81 311.5,249.69 312,249.79 312.5,250.5 313,250.52 313.5,250.68 314,250.76 314.5,250.4 315,248.91 315.5,249.01 316,249.14 316.5,250.66 317,251.06 317.5,251.11 318,251.46 318.5,252 319,251.93 319.5,251.87 320,251.45 320.5,252 321,252.46 321.5,252.84 322,252.95 322.5,252.59 323,252.93 323.5,252.91 324,253.48 324.5,253.69 325,253.09 325.5,253.59 326,254.15 326.5,254.28 327,254.31 327.5,253.57 328,254.76 328.5,254.67 329,254.02 329.5,254.86 330,254.98 330.5,254.6 331,254.96 331.5,255.58 332,255.54 332.5,253.09 333,253.11 333.5,253.12 334,253.13 334.5,253.14 335,251.46 335.5,251.47 336,251.48 336.5,255.61 337,255.3 337.5,255.14 338,255.2 338.5,255.52 339,255.14 339.5,255.89 340,255.59 340.5,254.73 341,255.77 341.5,255.03 342,255.96 342.5,256.04 343,255.59 343.5,255.53 344,255.89 344.5,255.77 345,255.79 345.5,255.23 346,256 346.5,251.06 347,251.07 347.5,251.08 348,251.09 348.5,251.1 349,254.57 349.5,254.58 350,254.69 350.5,254.8 351,255.83 351.5,256.48 352,256.39 352.5,256.55 353,255.84 353.5,256.83 354,257.01 354.5,256.84 355,256.95 355.5,257.06 356,257.17 356.5,256.84 357,256.95 357.5,251.95 358,252.06 358.5,252.16 359,257.76 359.5,258.16 360,258.19 360.5,258.29 361,258.07 361.5,258.75 362,257.99 362.5,258.38 363,258.47 363.5,258.53 364,258.6 364.5,259.25 365,259.09 365.5,259.3 366,256.82 366.5,256.88 367,259.45 367.5,259.53 368,259.72 368.5,258.56 369,259.72 369.5,259.13 370,259.19 370.5,259.15 371,259.14 371.5,259.72 372,259.95 372.5,259.76 373,260.24 373.5,260.09 374,259.95 374.5,260.2 375,260.36 375.5,259.65 376,260.72 376.5,259.49 377,259.25 377.5,260.17 378,260.97 378.5,260.45 379,260.95 379.5,260.74 380,260.55 380.5,260.56 381,258.93 381.5,258.95 382,261.18 382.5,261.15 383,261.17 383.5,260.93 384,261.28 384.5,261.02 385,260.55 385.5,260.9 386,260.35 386.5,261.3 387,260.58 387.5,260.66 388,261.27 388.5,259.72 389,261.39 389.5,261.2 390,261.35 390.5,260.7 391,260.73 391.5,260.75 392,260.49 392.5,260.8 393,261.62 393.5,261.34 394,261.14 394.5,261.41 395,261.54 395.5,260.69 396,260.69 396.5,261.74 397,261.76 397.5,261.65 398,260.6 398.5,262 399,261.24 399.5,261.69 400,262.04 400.5,261.99 401,261.8 401.5,261.88 402,261.75 402.5,261.54 403,261.09 403.5,261.12 404,260.49 404.5,260.53 405,260.56 405.5,260.59 406,259.94 406.5,259.97 407,262.23 407.5,262.55 408,262.01 408.5,261.32 409,259.78 409.5,259.81 410,259.84 410.5,259.87 411,259.91 411.5,259.88 412,259.91 412.5,262.34 413,262.9 413.5,262.19 414,262.29 414.5,262.51 415,262.54 415.5,261.17 416,261.21 416.5,261.24 417,261.28 417.5,261.31 418,262.67 418.5,260.29 419,260.32 419.5,260.35 420,263.14 420.5,262.58 421,263.14 421.5,263.02 422,263.53 422.5,263.58 423,262.34 423.5,262.37 424,263.29 424.5,262.66 425,260.13 425.5,260.17 426,260.19 426.5,260.22 427,260.25 427.5,263.15 428,263.67 428.5,263.69 429,263 429.5,263.92 430,263.92 430.5,263.78 431,263.19 431.5,263.63 432,263.95 432.5,263.86 433,263.65 433.5,260.15 434,260.17 434.5,260.2 435,260.23 435.5,260.25 436,264.27 436.5,263.54 437,263.78 437.5,264.25 438,263.51 438.5,264.34 439,264.11 439.5,264.05 440,262.86 440.5,262.89 441,262.91 441.5,262.94 442,263.62 442.5,263.07 443,263.46 443.5,264.73 444,264.62 444.5,264.25 445,264.63 445.5,263.43 446,264.18 446.5,264.34 447,265.01 447.5,264.28 448,264.49 448.5,264.89 449,264.75 449.5,264.81 450,264.98 450.5,265.11 451,265.21 451.5,265.44 452,265.46 452.5,265.24 453,265.26 453.5,265.6 454,265.62 454.5,265.75 455,265.34 455.5,264.87 456,265.64 456.5,265.55 457,265.93 457.5,263.44 458,263.48 458.5,262.37 459,262.42 459.5,262.47 460,262.52 460.5,262.57 461,266.14 461.5,265.72 462,266.23 462.5,265.79 463,265.76 463.5,266.54 464,266.52 464.5,265.49 465,264.23 465.5,264.28 466,266.49 466.5,266.46 467,266.43 467.5,266.45 468,266.06 468.5,266.54 469,266.84 469.5,266.87 470,267.19 470.5,267.2 471,267.07 471.5,267.05 472,267.04 472.5,267.32 473,266.73 473.5,267.53 474,266.71 474.5,267.63 475,267.62 475.5,267.1 476,267.29 476.5,266.61 477,266.65 477.5,266.69 478,267.19 478.5,267.86 479,267.96 479.5,267.68 480,268.07 480.5,267.32 481,267.86 481.5,267.94 482,267.83 482.5,267.97 483,268 483.5,267.27 484,267.76 484.5,268.42 485,268.23 485.5,268.05 486,268.35 486.5,268.29 487,267.78 487.5,268.04 488,268.03 488.5,268.59 489,268.51 489.5,268.53 490,268.65 490.5,268.7 491,268.68 491.5,268.37 492,269.08 492.5,268.63 493,268.57 493.5,268.64 494,268.9 494.5,268.82 495,269.38 495.5,269.4 496,269.14 496.5,269.17 497,268.81 497.5,268.83 498,269.11 498.5,269.7 499,269.57 499.5,269.67 500,269.01 500.5,269.21 501,269.37 501.5,269.54 502,269.25 502.5,269.3 503,269.36 503.5,270.03 504,270.11 504.5,270.16 505,270.4 505.5,269.81 506,269.91 506.5,270.18 507,270.12 507.5,270.29 508,269.82 508.5,269.35 509,270.07 509.5,270.51 510,270.07 510.5,270.33 511,270.58 511.5,270.11 512,269.77 512.5,270.64 513,270.49 513.5,270.07 514,270.14 514.5,270.21 515,270.56 515.5,270.52 516,270.51 516.5,270.53 517,270.59 517.5,269.84 518,270.56 518.5,270.08 519,270.67 519.5,269.6 520,269.6 520.5,270.69 521,270.47 521.5,270.48 522,270.57 522.5,270.2 523,270.54 523.5,270.16 524,270.07 524.5,270.18 525,270.21 525.5,270.48 526,270.47 526.5,270.17 527,268.2 527.5,268.23 528,268.26 528.5,268.28 529,268.31 529.5,270.11 530,270.54 530.5,270.44 531,270.68 531.5,269.7 532,269.72 532.5,269.75 533,269.77 533.5,270.95 534,270.28 534.5,270.8 535,270.92 535.5,270.95 536,270.81 536.5,271.14 537,270.33 537.5,271.16 538,271.18 538.5,271.06 539,269.86 539.5,270.43 540,271.08 540.5,271.02 541,271 541.5,271.36 542,271.39 542.5,271.47 543,271.02 543.5,271.1 544,271.32 544.5,271.46 545,270.39 545.5,271.64 546,270.98 546.5,271.36 547,271.69 547.5,270.99 548,271.44 548.5,271.29 549,271.25 549.5,271.85 550,270.73 550.5,271.78 551,271.45 551.5,272.01 552,272.19 552.5,271.4 553,271.65 553.5,271.5 554,272.31 554.5,272.36 555,272.42 555.5,272.04 556,271.81 556.5,272.26 557,270.85 557.5,270.9 558,270.95 558.5,271 559,271.05 559.5,272.56 560,272.57 560.5,270.47 561,270.52 561.5,270.57 562,270.62 562.5,273.02 563,271.67 563.5,271.72 564,271.77 564.5,271.82 565,273.55 565.5,273.35 566,273.28 566.5,273.61 567,273.68 567.5,272.87 568,271.96 568.5,271.98 569,272 569.5,272.03 570,272.05 570.5,273.38 571,273.23 571.5,273.01 572,273.28 572.5,273.65 573,273.03 573.5,273.73 574,273.96 574.5,273.59 575,273.95 575.5,273.91 576,273.25 576.5,273.74 577,273.56 577.5,273.68 578,273.42 578.5,274.1 579,273.92 579.5,273.72 580,273.21 580.5,273.4 581,274.14 581.5,274.14 582,274.27 582.5,273.79 583,274.25 583.5,274.3 584,273.57 584.5,273.51 585,274.26 585.5,274.43 586,273.93 586.5,274.42 587,274.13 587.5,271.74 588,271.74 588.5,271.74 589,273.27 589.5,274.48 590,273.65 590.5,272.96 591,273.67 591.5,274.48 592,273.38 592.5,273.9 593,273.9 593.5,273.96 594,272.57 594.5,272.96 595,273.34 595.5,273.72 596,276.52 596.5,276.72 597,277.02 597.5,278.9 597.5,305.69 597,304.19 596.5,303.94 596,304.62 595.5,304.19 595,305.68 594.5,305.64 594,305.59 593.5,305.55 593,305.51 592.5,303.96 592,303.29 591.5,303.91 591,303.2 590.5,303.06 590,307.76 589.5,307.72 589,307.67 588.5,307.63 588,307.58 587.5,302.7 587,302.86 586.5,303.27 586,302.58 585.5,302.85 585,303.55 584.5,303.35 584,302.66 583.5,302.5 583,302.62 582.5,305.01 582,304.98 581.5,304.96 581,304.94 580.5,302.87 580,302.22 579.5,302.3 579,302.97 578.5,302.14 578,302.57 577.5,302 577,302.27 576.5,302.07 576,302.72 575.5,302.69 575,304.47 574.5,304.44 574,304.42 573.5,304.4 573,304.37 572.5,302.98 572,302.74 571.5,302.51 571,302.07 570.5,301.69 570,302.31 569.5,302.42 569,302.05 568.5,302.25 568,302.22 567.5,302.2 567,301.67 566.5,301.83 566,301.83 565.5,303.14 565,303.11 564.5,301.76 564,301.51 563.5,302.39 563,301.61 562.5,302.12 562,301.54 561.5,301.93 561,301.55 560.5,301.75 560,301.28 559.5,301.97 559,301.69 558.5,301.5 558,301.51 557.5,301.32 557,301.76 556.5,301.26 556,301.95 555.5,301.52 555,301.26 554.5,301.74 554,301.07 553.5,301.49 553,301.12 552.5,301.38 552,303.03 551.5,303.01 551,301.24 550.5,301.5 550,301.22 549.5,301.93 549,301.44 548.5,301.69 548,301.3 547.5,301.52 547,300.87 546.5,301.32 546,301.62 545.5,301.32 545,301.39 544.5,301.42 544,300.9 543.5,301.25 543,300.84 542.5,301.23 542,301.28 541.5,301.4 541,301.27 540.5,300.91 540,300.63 539.5,301.05 539,301.05 538.5,301.24 538,301.28 537.5,302.78 537,302.76 536.5,302.74 536,302.72 535.5,302.71 535,300.7 534.5,300.92 534,300.96 533.5,300.84 533,300.47 532.5,300.68 532,304.15 531.5,304.14 531,300.38 530.5,300.34 530,300.29 529.5,300.26 529,300.39 528.5,300.23 528,300.8 527.5,300.36 527,300.5 526.5,300.54 526,300.39 525.5,300.1 525,300.38 524.5,300.63 524,300.3 523.5,300.5 523,300.55 522.5,300.51 522,300.59 521.5,300.66 521,300.28 520.5,299.92 520,301.06 519.5,300.37 519,300.28 518.5,299.9 518,300.98 517.5,300.05 517,300.39 516.5,299.99 516,301.21 515.5,301.19 515,301.55 514.5,300.65 514,300.24 513.5,299.78 513,300.25 512.5,300.61 512,300.6 511.5,300.58 511,300.57 510.5,300.55 510,300.3 509.5,299.95 509,301.13 508.5,301.12 508,299.56 507.5,299.87 507,300.76 506.5,300.26 506,300.09 505.5,300.82 505,300.78 504.5,300.75 504,300.71 503.5,299.46 503,299.83 502.5,300.22 502,299.57 501.5,299.48 501,299.59 500.5,299.24 500,299.11 499.5,299.43 499,302.49 498.5,302.46 498,299.05 497.5,298.93 497,299.04 496.5,299.19 496,299.28 495.5,299.53 495,299.64 494.5,298.87 494,299.07 493.5,299.11 493,299.95 492.5,298.71 492,298.81 491.5,298.89 491,299.08 490.5,298.81 490,299.1 489.5,298.54 489,299.04 488.5,298.56 488,298.67 487.5,298.38 487,298.68 486.5,298.96 486,300.05 485.5,300.02 485,298.82 484.5,298.06 484,298.83 483.5,298.02 483,298.93 482.5,298.89 482,299.94 481.5,299.91 481,299.88 480.5,299.85 480,297.66 479.5,298.52 479,298.98 478.5,297.64 478,298.51 477.5,298.19 477,300.21 476.5,300.18 476,298.09 475.5,298.86 475,297.48 474.5,297.72 474,297.36 473.5,297.95 473,298.31 472.5,297.66 472,298.39 471.5,297.34 471,297.37 470.5,297.8 470,297.48 469.5,297.21 469,297.37 468.5,297.84 468,297.89 467.5,297.94 467,297.9 466.5,297.54 466,297.42 465.5,297.49 465,298.08 464.5,299.08 464,297.74 463.5,297.83 463,298.34 462.5,298.35 462,298.7 461.5,298.67 461,298.63 460.5,299.73 460,299.69 459.5,299.66 459,299.02 458.5,298.17 458,298.12 457.5,298.08 457,297.32 456.5,297.57 456,301.73 455.5,301.69 455,301.66 454.5,301.62 454,298.19 453.5,297.78 453,297.51 452.5,297.56 452,297.5 451.5,297.14 451,297.36 450.5,297.31 450,297.42 449.5,296.77 449,296.85 448.5,297.16 448,301.39 447.5,301.36 447,301.32 446.5,301.29 446,296.83 445.5,296.85 445,296.93 444.5,296.7 444,300.41 443.5,300.36 443,297.03 442.5,297.11 442,296.58 441.5,296.35 441,296.11 440.5,296.09 440,296.65 439.5,296.05 439,296.21 438.5,296.8 438,296.06 437.5,295.96 437,296.72 436.5,296.21 436,296.07 435.5,295.8 435,295.6 434.5,295.84 434,296.28 433.5,295.79 433,295.66 432.5,295.46 432,295.23 431.5,296.76 431,296.71 430.5,300.39 430,300.34 429.5,300.29 429,300.24 428.5,295.66 428,295.08 427.5,295.22 427,295.09 426.5,294.64 426,295.35 425.5,295.56 425,294.77 424.5,295.11 424,294.68 423.5,295.03 423,295.02 422.5,295.42 422,294.82 421.5,294.88 421,295.14 420.5,295.34 420,295.43 419.5,294.66 419,294.87 418.5,294.7 418,294.52 417.5,295.32 417,294.89 416.5,294.91 416,295.31 415.5,295.54 415,294.79 414.5,294.92 414,295.27 413.5,294.9 413,294.57 412.5,295.3 412,294.61 411.5,294.92 411,295.25 410.5,294.5 410,294.93 409.5,294.56 409,294.74 408.5,294.65 408,294.53 407.5,294.82 407,295.29 406.5,296.11 406,296.07 405.5,296.02 405,295.97 404.5,295.92 404,294.38 403.5,294.33 403,294.68 402.5,294.95 402,295.1 401.5,294.11 401,294.3 400.5,294.89 400,294.62 399.5,293.97 399,294.14 398.5,294.48 398,294.35 397.5,294.18 397,293.74 396.5,294.01 396,293.53 395.5,294.17 395,293.79 394.5,294.15 394,294.1 393.5,294.78 393,294.73 392.5,293.17 392,293.53 391.5,293.46 391,293.3 390.5,293.04 390,293.08 389.5,292.84 389,293.27 388.5,292.91 388,293.27 387.5,293.1 387,293.73 386.5,293.54 386,292.54 385.5,293.21 385,292.51 384.5,292.36 384,292.38 383.5,292.3 383,295.93 382.5,295.88 382,292.87 381.5,292.91 381,292.97 380.5,292.48 380,291.89 379.5,292.56 379,292.51 378.5,292.08 378,292.32 377.5,291.62 377,291.87 376.5,291.94 376,291.9 375.5,296.16 375,296.11 374.5,296.06 374,292.29 373.5,291.21 373,292.39 372.5,291.22 372,291.64 371.5,291.3 371,292.37 370.5,291.32 370,290.87 369.5,290.94 369,290.9 368.5,291.02 368,290.84 367.5,291.49 367,290.9 366.5,290.76 366,290.69 365.5,290.47 365,292.43 364.5,292.37 364,292.32 363.5,290.21 363,290.23 362.5,290.45 362,290.23 361.5,290.82 361,290.08 360.5,289.84 360,290.02 359.5,290 359,290.12 358.5,289.79 358,290.26 357.5,289.89 357,289.7 356.5,289.43 356,289.31 355.5,289.89 355,289.49 354.5,289.22 354,289.21 353.5,289.05 353,292.66 352.5,292.61 352,292.55 351.5,292.5 351,292.46 350.5,289.05 350,288.94 349.5,289.66 349,289.16 348.5,289.72 348,289.05 347.5,288.86 347,288.8 346.5,288.97 346,289.07 345.5,288.72 345,288.44 344.5,288.73 344,288.76 343.5,288.43 343,288.7 342.5,288.34 342,288.62 341.5,288.49 341,288.12 340.5,288.14 340,288.56 339.5,288.16 339,288.29 338.5,288.52 338,288.71 337.5,288.59 337,289.08 336.5,289.15 336,289.21 335.5,289.37 335,289.34 334.5,289.6 334,290.37 333.5,290.3 333,290.24 332.5,290.18 332,288.63 331.5,288.41 331,288.54 330.5,288.5 330,288.63 329.5,288.8 329,291.37 328.5,291.31 328,288.69 327.5,287.8 327,288.27 326.5,288.3 326,288.05 325.5,287.98 325,287.77 324.5,287.58 324,287.31 323.5,287.68 323,287.58 322.5,287.97 322,286.87 321.5,287.22 321,287.45 320.5,289.46 320,289.35 319.5,286.32 319,286.12 318.5,286.23 318,286.16 317.5,286.32 317,286.1 316.5,289.68 316,289.57 315.5,286.84 315,286.74 314.5,285.3 314,286.24 313.5,286.01 313,285.09 312.5,284.98 312,284.83 311.5,285.3 311,284.58 310.5,284.63 310,284.59 309.5,284.49 309,284.59 308.5,284.39 308,283.88 307.5,284.13 307,284.06 306.5,283.67 306,283.8 305.5,283.67 305,283.36 304.5,283.71 304,283.32 303.5,283.36 303,283.96 302.5,283.17 302,283.25 301.5,283.29 301,282.71 300.5,282.97 300,282.6 299.5,282.84 299,282.55 298.5,282.39 298,282.78 297.5,282.68 297,282.42 296.5,282.84 296,282.48 295.5,283.73 295,283.68 294.5,283.63 294,283.58 293.5,283.44 293,281.7 292.5,281.58 292,281.8 291.5,281.13 291,281.27 290.5,283.82 290,283.62 289.5,283.41 289,283.21 288.5,279.99 288,279.75 287.5,279.29 287,279.25 286.5,279.54 286,278.88 285.5,279.69 285,279.5 284.5,279.3 284,279.1 283.5,278.9 283,277.82 282.5,277.62 282,277.06 281.5,277.3 281,276.96 280.5,276.49 280,276.65 279.5,276.12 279,275.85 278.5,276.51 278,276.01 277.5,275.33 277,275.92 276.5,275.72 276,274.83 275.5,274.87 275,274.29 274.5,275.34 274,274.49 273.5,273.93 273,273.78 272.5,273.27 272,273.54 271.5,273.17 271,273.45 270.5,274.13 270,274.01 269.5,274.05 269,274.23 268.5,275.07 268,275.56 267.5,274.34 267,275.94 266.5,275.98 266,276.13 265.5,276.28 265,276.43 264.5,276.58 264,277.87 263.5,278.03 263,278.2 262.5,278.36 262,276.25 261.5,276.83 261,276.99 260.5,277.16 260,277.55 259.5,277.49 259,277.25 258.5,277.5 258,277.49 257.5,278.29 257,277.8 256.5,279.74 256,279.91 255.5,278.24 255,278.79 254.5,278.66 254,279.28 253.5,279.29 253,279.19 252.5,279.49 252,279.61 251.5,280.35 251,280.02 250.5,280.61 250,280.22 249.5,280.84 249,280.21 248.5,280.49 248,279.71 247.5,279.72 247,280.49 246.5,279.58 246,279.58 245.5,280.1 245,280.5 244.5,279.53 244,279.56 243.5,279.51 243,280.71 242.5,279.81 242,280.53 241.5,279.67 241,279.53 240.5,279.77 240,279.53 239.5,280.21 239,280.08 238.5,280.04 238,280.15 237.5,280.59 237,281.22 236.5,280.59 236,281.26 235.5,281.43 235,281.93 234.5,282.14 234,281.79 233.5,281.96 233,282.82 232.5,282.12 232,283.75 231.5,282.58 231,283.36 230.5,283.58 230,283.88 229.5,283.56 229,283.62 228.5,283.4 228,283.47 227.5,284.14 227,283.75 226.5,284.45 226,285.09 225.5,284.8 225,284.07 224.5,284.48 224,284.53 223.5,284.31 223,284.55 222.5,285.49 222,284.63 221.5,284.76 221,284.82 220.5,284.88 220,285.1 219.5,284.22 219,283.74 218.5,287.22 218,287.03 217.5,286.84 217,286.65 216.5,286.47 216,283.51 215.5,282.47 215,283.11 214.5,282.4 214,282.39 213.5,282.22 213,282.37 212.5,282.87 212,283.81 211.5,283.74 211,283.68 210.5,283.62 210,283.55 209.5,283.23 209,281.74 208.5,282.18 208,281.99 207.5,281.66 207,286.34 206.5,286.27 206,286.21 205.5,286.14 205,281.24 204.5,281.18 204,281.01 203.5,281.6 203,281.22 202.5,281.4 202,281.02 201.5,285.05 201,285.05 200.5,281.68 200,281.21 199.5,282.56 199,281.73 198.5,280.91 198,281.02 197.5,282.72 197,282.72 196.5,282.72 196,282.72 195.5,282.72 195,281.16 194.5,280.93 194,281.78 193.5,281.83 193,281.83 192.5,281.83 192,281.88 191.5,281.26 191,282.62 190.5,282.48 190,282.13 189.5,282.77 189,282.78 188.5,283.07 188,282.66 187.5,283.11 187,283.16 186.5,284.37 186,289.16 185.5,289.37 185,289.58 184.5,289.79 184,284.67 183.5,284.88 183,285.16 182.5,285.26 182,285.95 181.5,285.58 181,286.15 180.5,286.13 180,286.91 179.5,286.61 179,286.96 178.5,286.63 178,287.14 177.5,287.47 177,287.77 176.5,287.52 176,287.71 175.5,288.48 175,288.65 174.5,288.69 174,288.77 173.5,288.98 173,289.28 172.5,289.95 172,290.46 171.5,289.9 171,290.57 170.5,291 170,291.71 169.5,294.43 169,294.68 168.5,294.93 168,295.18 167.5,295.43 167,293.3 166.5,293.77 166,294.02 165.5,294.27 165,294.52 164.5,295.19 164,294.59 163.5,295.57 163,296.43 162.5,296.98 162,297.51 161.5,301.06 161,301.72 160.5,302.39 160,303.67 159.5,304.95 159,303.79 158.5,305.32 158,307.43 157.5,308.81 157,311.06 156.5,313.06 156,314.32 155.5,315.88 155,319.05 154.5,320.31 154,321.57 153.5,321.05 153,322.45 152.5,324.34 152,325.56 151.5,327.95 151,327.4 150.5,327.77 150,328.09 149.5,328.55 149,328.47 148.5,329.61 148,330.38 147.5,331.99 147,333.16 146.5,335.06 146,335.35 145.5,336.91 145,338.03 144.5,338.88 144,339.88 143.5,340.88 143,340.56 142.5,341.59 142,340.88 141.5,341.07 141,341.15 140.5,342.39 140,342.56 139.5,342.73 139,342.9 138.5,343.39 138,342.9 137.5,343.96 137,344.78 136.5,344.84 136,344.86 135.5,345.63 135,345.81 134.5,346.32 134,347.58 133.5,348.44 133,349.45 132.5,350.81 132,350.64 131.5,350.78 131,351.55 130.5,351.19 130,351.27 129.5,352.2 129,351.24 128.5,351.57 128,351.79 127.5,351.97 127,352.05 126.5,354.92 126,355.55 125.5,356.19 125,356.83 124.5,355.47 124,355.81 123.5,356.09 123,357.83 122.5,358.13 122,358.47 121.5,359.17 121,360.26 120.5,362.13 120,362.83 119.5,364.01 119,364.64 118.5,365.14 118,365.24 117.5,366.56 117,367.06 116.5,367.56 116,368.14 115.5,367.86 115,369.79 114.5,370.29 114,370.71 113.5,369.83 113,370.03 112.5,370.97 112,371.2 111.5,371.76 111,372.15 110.5,371.96 110,372.54 109.5,372.54 109,373.21 108.5,374.89 108,375.3 107.5,375.87 107,376.44 106.5,375.69 106,376.26 105.5,377.65 105,377.75 104.5,378.38 104,378.49 103.5,378.94 103,379.7 102.5,379.84 102,379.7 101.5,380.55 101,380.87 100.5,381.22 100,382.29 99.5,382.57 99,382.86 98.5,383.36 98,382.41 97.5,385.25 97,385.75 96.5,384.05 96,384.56 95.5,385.32 95,385.28 94.5,385.35 94,386.22 93.5,386.37 93,386.45 92.5,386.53 92,386.61 91.5,386.69 91,386.47 90.5,386.79 90,388.05 89.5,389.53 89,390.53 88.5,390.36 88,391.68"/>
<polyline clip-path="url(#c1)" fill="none" stroke="#1f77b4" stroke-width="1.6" stroke-linejoin="round" stroke-linecap="butt" points="92,372 92,380"/>
<polyline clip-path="url(#c1)" fill="none" stroke="#1f77b4" stroke-width="1.6" stroke-linejoin="round" stroke-linecap="butt" points="95.7,368 95.7,378"/>
<polyline clip-path="url(#c1)" fill="none" stroke="#1f77b4" stroke-width="2.5" stroke-linejoin="round"  points="597.8,290 598.2,300 598.6,340 599,380 599.6,392 600.4,388 601.2,393 602,378 602.6,392 603.4,372.7 604.2,393 605,380 605.8,394 606.6,376 607.4,393 608.2,364.7 609,394 609.8,372 610.6,394 611.4,382 612.2,377.6 613,394 613.6,388 614.2,395 615.4,397.7 616,397.73 616.5,397.68 617,397.44 617.5,397.37 618,397.45 618.5,398.11 619,397.47 619.5,397.55 620,397.54 620.5,397.95 621,398.41 621.5,397.37 622,397.9 622.5,397.74 623,397.59 623.5,397.88 624,397.24 624.5,398 625,397.78 625.5,397.34 626,398.27 626.5,398 627,398.12 627.5,397.18 628,397.6 628.5,397.51 629,397.92 629.5,398.19 630,397.02 630.5,397.71 631,397.65 631.5,398.06 632,397.69 632.5,397.24 633,397.63 633.5,397.33 634,397.42 634.5,397.72 635,397.53 635.5,397.8 636,397.16 636.5,398.53 637,398.15 637.5,397.96 638,397.24 638.5,396.93 639,397.39 639.5,397.62 640,398.5 640.5,398.17 641,397.51 641.5,398.13 642,398.14 642.5,397.71 643,398.14 643.5,397.82 644,397.47 644.5,397.28 645,397.66 645.5,398.06 646,397.21 646.5,397.12 647,397.9 647.5,396.73 648,398.35 648.5,397.54 649,397.96 649.5,398.37 650,397.18 650.5,397.32 651,398.5 651.5,397.6 652,397.65 652.5,397.78 653,398.08 653.5,398.17 654,397.74 654.5,397.58 655,397.69 655.5,397.81 656,398.17 656.5,397.75 657,398.35 657.5,397.39 658,397.89 658.5,398.33 659,398.16 659.5,397.82 660,397.38 660.5,397.45 661,397.64 661.5,397.81 662,397.61 662.5,397.18 663,397.44 663.5,397.89 664,398 664.5,397.2 665,397.57 665.5,397.1 666,397.5 666.5,398.97 667,397.72 667.5,397.58"/>
<polyline clip-path="url(#c2)" fill="none" stroke="#1f77b4" stroke-width="2.3" stroke-linejoin="round" stroke-linecap="butt" points="72.6,597.2 78.6,597.2 78.6,601.4 81.2,601.4 81.2,597.2 92.3,597.2 92.3,601.4 108.5,601.4 108.5,443.7 109.6,443.7 109.6,451.9 115.7,451.9 115.7,447.5 120,447.5 120,464.2 121.5,464.2 121.5,597.2 127.5,597.2 127.5,601.4 134,601.4 134,504.5 136.1,504.5 136.1,508.3 140.4,508.3 140.4,504.5 141.9,504.5 141.9,483.9 144.5,483.9 144.5,480 148.3,480 148.3,476.5 158.4,476.5 158.4,479.9 188.9,479.9 188.9,476 198.1,476 198.1,471.5 208.3,471.5 208.3,468.1 215.2,468.1 215.2,471.5 248,471.5 248,476 273.5,476 273.5,479.9 285.3,479.9 285.3,483.9 291.9,483.9 291.9,487.8 297.1,487.8 297.1,492.3 303.2,492.3 303.2,496.2 309,496.2 309,500.2 316.1,500.2 316.1,504.3 325.8,504.3 325.8,508 333.7,508 333.7,512.2 347.1,512.2 347.1,516.2 362,516.2 362,520.6 377.3,520.6 377.3,524.6 397,524.6 397,529.1 419.3,529.1 419.3,532.5 450.1,532.5 450.1,536.4 484.2,536.4 484.2,540.4 495.8,540.4 495.8,536.4 501.8,536.4 501.8,540.4 532.6,540.4 532.6,544.3 560.4,544.3 560.4,548.7 577.7,548.7 577.7,553.1 585.5,553.1 585.5,565.3 586.2,565.3 586.2,561 590.2,561 590.2,565.3 592.9,565.3 592.9,528.6 593.6,528.6 593.6,597.5 594.2,597.5 594.2,528.6 594.8,528.6 594.8,520.3 595.4,520.3 595.4,598 596,598 596,601.7 613.5,601.7 613.5,597.4 618.2,597.4 618.2,601.7 667.5,601.7"/>
<polyline clip-path="url(#c3)" fill="none" stroke="#1f77b4" stroke-width="2.3" stroke-linejoin="round" stroke-linecap="butt" points="72.6,800.8 76,800.8 76,804.8 106.2,804.8 106.2,643.3 108.8,643.3 108.8,651.5 110.3,651.5 110.3,659.9 111,659.9 111,643.3 113.2,643.3 113.2,655.6 115.3,655.6 115.3,651.3 119.6,651.3 119.6,804.8 121.8,804.8 121.8,800.8 123.9,800.8 123.9,804.8 126.1,804.8 126.1,800.8 128.2,800.8 128.2,796.5 129.7,796.5 129.7,651.3 130.4,651.3 130.4,655.6 131.8,655.6 131.8,708 136.1,708 136.1,712.3 139,712.3 139,708 141.9,708 141.9,712.3 143.3,712.3 143.3,687.9 144.8,687.9 144.8,683.6 148.3,683.6 148.3,680.1 158.4,680.1 158.4,683.5 188.9,683.5 188.9,679.6 198.1,679.6 198.1,675.1 208.3,675.1 208.3,671.7 215.2,671.7 215.2,675.1 248,675.1 248,679.6 273.5,679.6 273.5,683.5 285.3,683.5 285.3,687.5 291.9,687.5 291.9,691.4 297.1,691.4 297.1,695.9 303.2,695.9 303.2,699.8 309,699.8 309,703.8 316.1,703.8 316.1,707.9 325.8,707.9 325.8,711.6 333.7,711.6 333.7,715.8 347.1,715.8 347.1,719.8 362,719.8 362,724.2 377.3,724.2 377.3,728.2 397,728.2 397,732.7 419.3,732.7 419.3,736.1 450.1,736.1 450.1,740 484.2,740 484.2,744 495.8,744 495.8,740 501.8,740 501.8,744 532.6,744 532.6,747.9 560.4,747.9 560.4,752.3 577.7,752.3 577.7,756.2 585.1,756.2 585.1,764.3 588.4,764.3 588.4,768.5 595.1,768.5 595.1,804.8 599,804.8 599,800 600.6,800 600.6,672.1 601.6,672.1 601.6,740 602,740 602,700 602.4,700 602.4,799.5 609.5,799.5 609.5,804.8 616.1,804.8 616.1,800.8 618.8,800.8 618.8,804.8 619.3,804.8 619.3,796.9 621.4,796.9 621.4,800.8 624.8,800.8 624.8,779.8 626.1,779.8 626.1,800.8 629.3,800.8 629.3,796.9 631.4,796.9 631.4,804.8 654.2,804.8 654.2,800.8 656.8,800.8 656.8,780.6 660.8,780.6 660.8,796.9 661.6,796.9 661.6,780.6 667.5,780.6"/>
<polyline clip-path="url(#c4)" fill="none" stroke="#1f77b4" stroke-width="2.3" stroke-linejoin="round"  points="72.6,927.71 73.1,927.61 73.6,927.51 74.1,927.79 74.6,927.76 75.1,928.03 75.6,927.55 76.1,927.87 76.6,928.01 77.1,927.5 77.6,927.9 78.1,927.55 78.6,927.88 79.1,928.03 79.6,927.8 80.1,927.84 80.6,927.69 81.1,927.84"/>
<polygon clip-path="url(#c4)" fill="#1f77b4" stroke="#1f77b4" stroke-width="1" stroke-linejoin="miter" points="81.5,926.11 82,926.08 82.5,925.7 83,925.96 83.5,925.55 84,924.9 84.5,925.72 85,925.19 85.5,925.16 86,924.68 86.5,925 87,923.86 87.5,923.83 88,923.8 88.5,923.76 89,923.27 89.5,923.23 90,923.2 90.5,924.18 91,924.84 91.5,924.34 92,924.31 92.5,924.8 93,924.66 93.5,925.65 94,925.06 94.5,926.54 95,926.21 95.5,926.93 96,927.09 96.5,928.4 97,928.39 97.5,927.99 98,927.7 98.5,928.95 99,929.34 99.5,928.47 100,929.24 100.5,929.01 101,928.7 101.5,928.05 102,928.4 102.5,928.58 103,928.63 103.5,928.23 104,927.86 104.5,927.58 105,927.75 105.5,928.02 106,927.63 106.5,925.54 107,927.22 107.5,927.01 108,926.34 108.5,926.7 109,927.04 109.5,926.59 110,926.32 110.5,926.3 111,925.66 111.5,926.38 112,926.33 112.5,925.77 113,925.58 113.5,926.1 114,926.65 114.5,927.48 115,926.45 115.5,925.1 116,922.81 116.5,922.56 117,920.93 117.5,920.41 118,921.06 118.5,922 119,922.56 119.5,922.92 120,923.59 120.5,924.02 121,923.66 121.5,924.72 122,924.92 122.5,924.89 123,924.8 123.5,924.82 124,924.13 124.5,924.08 125,924.04 125.5,923.92 126,924.06 126.5,923.37 127,923.28 127.5,922.56 128,923.26 128.5,923.33 129,923.44 129.5,921.82 130,922.38 130.5,923.09 131,923.04 131.5,923.71 132,923.36 132.5,923.77 133,923.88 133.5,925.26 134,925.78 134.5,927.03 135,927.1 135.5,926.19 136,925.44 136.5,924.9 137,924.36 137.5,923.74 138,922.96 138.5,922.72 139,922.48 139.5,922.24 140,922.09 140.5,921.37 141,920.89 141.5,921.5 142,920.41 142.5,919.91 143,919.36 143.5,920.05 144,920.63 144.5,921.36 145,923.02 145.5,922.95 146,923.33 146.5,923.16 147,922.57 147.5,921.31 148,920.51 148.5,920.21 149,919.82 149.5,918.65 150,918.11 150.5,917.14 151,916.81 151.5,917.6 152,917.33 152.5,917.04 153,915.66 153.5,916.35 154,915.67 154.5,915.95 155,915.84 155.5,914.5 156,914.81 156.5,914.7 157,914.55 157.5,914.32 158,914.07 158.5,913.11 159,913.12 159.5,911.75 160,909.92 160.5,909.6 161,909.27 161.5,912.03 162,911.35 162.5,911.67 163,911.18 163.5,909.57 164,909.53 164.5,911.63 165,911.53 165.5,911.66 166,911.68 166.5,911.69 167,911.51 167.5,910.66 168,910.7 168.5,911.23 169,911.08 169.5,910.69 170,911.23 170.5,910.58 171,910.79 171.5,910.41 172,911.38 172.5,910.17 173,910.9 173.5,911.2 174,910.74 174.5,911.21 175,910.12 175.5,910.88 176,911.13 176.5,911.08 177,910.29 177.5,911.12 178,910.76 178.5,910.56 179,911.11 179.5,910.55 180,911 180.5,910.83 181,910.96 181.5,911.6 182,911.76 182.5,910.56 183,911.26 183.5,911.94 184,911.13 184.5,912.06 185,911.86 185.5,911.55 186,911.54 186.5,911.78 187,911.44 187.5,911.46 188,910.6 188.5,910.62 189,910.65 189.5,910.67 190,910.7 190.5,911.53 191,911.91 191.5,912.35 192,912.19 192.5,912.26 193,911.42 193.5,912.31 194,911.92 194.5,911.49 195,912.6 195.5,911.85 196,912.75 196.5,912.59 197,912.65 197.5,912.38 198,912.21 198.5,912.91 199,912.88 199.5,912.47 200,912.34 200.5,912.61 201,911.62 201.5,912.79 202,912.65 202.5,913.17 203,913.01 203.5,912.64 204,913.18 204.5,913.43 205,913.47 205.5,913.16 206,912.51 206.5,912.69 207,913.12 207.5,912.92 208,912.92 208.5,912.09 209,912.13 209.5,912.16 210,912.19 210.5,912.23 211,913.12 211.5,912.6 212,913.95 212.5,913.54 213,913.82 213.5,913.55 214,912.51 214.5,912.54 215,912.58 215.5,913.88 216,913.79 216.5,913.73 217,913.59 217.5,914.26 218,914.25 218.5,914.2 219,914.32 219.5,913.71 220,912.99 220.5,913.02 221,913.05 221.5,913.09 222,914 222.5,914.23 223,914.02 223.5,914.05 224,914.08 224.5,914.74 225,914.21 225.5,914.5 226,914.79 226.5,914.66 227,914.76 227.5,914.76 228,914.19 228.5,914.86 229,915.03 229.5,915.09 230,914.83 230.5,914.49 231,915.16 231.5,915.06 232,915.06 232.5,914.99 233,915.52 233.5,915.39 234,915.84 234.5,915.62 235,915.48 235.5,915.1 236,915.93 236.5,915.61 237,915.28 237.5,916.03 238,915.7 238.5,914.91 239,915.73 239.5,915.8 240,915.42 240.5,914.01 241,913.95 241.5,913.9 242,914.98 242.5,915.51 243,915.33 243.5,915.27 244,915.21 244.5,914.38 245,915.06 245.5,914.78 246,913.34 246.5,913.34 247,914.35 247.5,914.35 248,915.08 248.5,914.18 249,914.8 249.5,915.05 250,914.85 250.5,915.24 251,915.2 251.5,914.73 252,915 252.5,914.89 253,914.45 253.5,914.99 254,915.06 254.5,915.04 255,914.75 255.5,915.23 256,915.12 256.5,914.85 257,914.74 257.5,915.38 258,914.39 258.5,914.28 259,914.99 259.5,914.56 260,915.15 260.5,914.86 261,915.34 261.5,915.23 262,914.96 262.5,914.74 263,914.56 263.5,914.22 264,913.98 264.5,913.58 265,913.53 265.5,913.11 266,913.17 266.5,912.29 267,912.33 267.5,911.93 268,911.87 268.5,911.2 269,910.99 269.5,910.78 270,911.65 270.5,910.26 271,911.24 271.5,910.9 272,910.65 272.5,909.82 273,910.18 273.5,910.32 274,909.49 274.5,910.09 275,909.94 275.5,909.81 276,909.37 276.5,909.38 277,909.53 277.5,909.01 278,905.87 278.5,905.74 279,905.61 279.5,905.49 280,905.36 280.5,908.17 281,908.57 281.5,907.82 282,908.38 282.5,907.48 283,906.12 283.5,906.94 284,906.78 284.5,906.62 285,906.46 285.5,907.12 286,906.89 286.5,906.45 287,906.49 287.5,906.49 288,906.14 288.5,906.15 289,906.01 289.5,905.53 290,905.78 290.5,904.67 291,904.6 291.5,904.3 292,905.13 292.5,903.14 293,903.06 293.5,902.99 294,902.91 294.5,902.83 295,904.6 295.5,904.44 296,904.19 296.5,904.05 297,903.53 297.5,903.69 298,903.61 298.5,903.54 299,903.46 299.5,903.39 300,903.75 300.5,903.54 301,903.61 301.5,903.33 302,902.72 302.5,902.99 303,902.4 303.5,903.08 304,902.84 304.5,903.07 305,902.94 305.5,901.86 306,901.97 306.5,902.43 307,902.34 307.5,902.07 308,902.59 308.5,901.43 309,901.53 309.5,902.08 310,902.31 310.5,901.97 311,900.9 311.5,900.86 312,900.83 312.5,900.79 313,902.1 313.5,901.37 314,901.64 314.5,901.38 315,901.37 315.5,901.99 316,901.12 316.5,901.76 317,901.38 317.5,901.37 318,901.39 318.5,898.57 319,898.53 319.5,898.5 320,898.46 320.5,898.43 321,901.3 321.5,901.27 322,901.24 322.5,900.33 323,900.94 323.5,900.9 324,899.13 324.5,899.09 325,899.06 325.5,900.81 326,900.75 326.5,900.86 327,900.68 327.5,900.92 328,901.25 328.5,901.35 329,900.36 329.5,901.33 330,901.22 330.5,900.9 331,901.34 331.5,901.24 332,900.99 332.5,901.47 333,901.41 333.5,900.79 334,901.52 334.5,901.27 335,899.01 335.5,899.02 336,899.04 336.5,899.05 337,899.07 337.5,900.95 338,901.14 338.5,901.65 339,901.6 339.5,901.02 340,901.13 340.5,901.06 341,901.53 341.5,901.37 342,900.9 342.5,900.98 343,901.17 343.5,901.73 344,901.61 344.5,901.78 345,900.64 345.5,901.73 346,901.86 346.5,900.38 347,901.07 347.5,901.82 348,901.26 348.5,901.69 349,900.44 349.5,900.44 350,901.67 350.5,901.67 351,901.74 351.5,901.71 352,901.57 352.5,900.98 353,901.55 353.5,901.73 354,901.46 354.5,901.79 355,901.55 355.5,901.39 356,901.02 356.5,901.62 357,901.25 357.5,900.69 358,901.2 358.5,901.4 359,901.1 359.5,899.4 360,899.4 360.5,899.4 361,901.19 361.5,901.21 362,901.72 362.5,900.99 363,901.51 363.5,901.68 364,900.78 364.5,901.12 365,901.62 365.5,901.77 366,901.59 366.5,901.75 367,901.41 367.5,901.77 368,901.13 368.5,901.58 369,901.72 369.5,901 370,901 370.5,901 371,901 371.5,900.72 372,899.99 372.5,899.98 373,899.96 373.5,901 374,901.31 374.5,901.42 375,901.31 375.5,901.4 376,900.74 376.5,901.19 377,901.23 377.5,900.35 378,901.06 378.5,900.96 379,900.65 379.5,900.93 380,900.9 380.5,900.45 381,901.15 381.5,901.49 382,901.09 382.5,901.33 383,901.1 383.5,900.5 384,900.98 384.5,901.5 385,901.28 385.5,901.04 386,900.87 386.5,900.81 387,900.89 387.5,901.13 388,901.32 388.5,900.72 389,901.36 389.5,900.89 390,900.3 390.5,900.72 391,900.7 391.5,900.69 392,900.67 392.5,900.66 393,900.88 393.5,899.76 394,900.55 394.5,900.42 395,900.28 395.5,900.71 396,900.97 396.5,900.78 397,900.83 397.5,900.08 398,900.59 398.5,900.4 399,900.41 399.5,900.97 400,897.16 400.5,897.17 401,897.17 401.5,897.17 402,900 402.5,901.05 403,900.88 403.5,901.03 404,900.14 404.5,900.81 405,900.75 405.5,900.82 406,900.29 406.5,900.55 407,901.02 407.5,897.06 408,897.07 408.5,897.07 409,897.08 409.5,897.08 410,899.95 410.5,901.2 411,900.33 411.5,900.83 412,901 412.5,900.86 413,899.12 413.5,899.13 414,900.35 414.5,900.33 415,901.05 415.5,900.06 416,900.21 416.5,900.21 417,900.22 417.5,900.22 418,901 418.5,900.19 419,900.19 419.5,900.19 420,900.2 420.5,900.76 421,900.46 421.5,900.89 422,900.97 422.5,900.96 423,901.02 423.5,900.75 424,900.94 424.5,900.56 425,900.87 425.5,900.32 426,900.72 426.5,900.39 427,899.82 427.5,900.55 428,900.46 428.5,900.02 429,900.68 429.5,900.55 430,899.78 430.5,900.92 431,900.63 431.5,900.94 432,899.32 432.5,897.62 433,897.61 433.5,900.11 434,899.19 434.5,899.18 435,899.16 435.5,899.15 436,899.13 436.5,899.19 437,899.18 437.5,899.16 438,900.31 438.5,900.32 439,898.33 439.5,898.31 440,900.5 440.5,900.25 441,900.64 441.5,900.5 442,899.77 442.5,899.53 443,899.51 443.5,899.5 444,899.01 444.5,899.28 445,900.37 445.5,900.5 446,900.16 446.5,899.77 447,900.15 447.5,900.34 448,900.24 448.5,900.47 449,899.98 449.5,900.26 450,900.07 450.5,900.21 451,900.47 451.5,899.96 452,900.34 452.5,900.45 453,900.43 453.5,900.3 454,900.48 454.5,900.3 455,899.79 455.5,899.81 456,899.82 456.5,900.24 457,900.54 457.5,900.42 458,900.83 458.5,900.15 459,900.04 459.5,899.75 460,900.71 460.5,900.69 461,900.87 461.5,900.71 462,899.28 462.5,900.35 463,901 463.5,901.03 464,900.39 464.5,900.33 465,900.68 465.5,900.92 466,900.85 466.5,900.67 467,900.47 467.5,900.95 468,900.33 468.5,900.69 469,900.56 469.5,899.48 470,900.77 470.5,900.99 471,900.96 471.5,900.55 472,901.1 472.5,901.29 473,900.75 473.5,901.2 474,901.15 474.5,901.12 475,900.79 475.5,901.33 476,900.58 476.5,901.08 477,901 477.5,896.71 478,896.73 478.5,896.75 479,896.76 479.5,896.78 480,897.89 480.5,897.91 481,897.92 481.5,897.94 482,901.35 482.5,900.51 483,900.28 483.5,898.03 484,898.05 484.5,901.11 485,901.09 485.5,901.69 486,901.3 486.5,901.58 487,901.02 487.5,901.45 488,900.55 488.5,901.19 489,901.65 489.5,901.92 490,901.63 490.5,901.26 491,901.5 491.5,900.12 492,900.15 492.5,900.18 493,900.2 493.5,900.23 494,901.4 494.5,901.17 495,901.88 495.5,901.99 496,902.14 496.5,902.16 497,901.31 497.5,902.25 498,901.54 498.5,902.3 499,902.38 499.5,901.79 500,902.42 500.5,902.3 501,902.37 501.5,902.35 502,901.77 502.5,902.04 503,902.55 503.5,902.33 504,902.59 504.5,902.49 505,902.33 505.5,902.64 506,902.09 506.5,902.68 507,902.02 507.5,902.53 508,901.84 508.5,902.46 509,902.26 509.5,902.86 510,902.59 510.5,902.99 511,902.14 511.5,902.86 512,901.87 512.5,903.08 513,902.85 513.5,903.01 514,902.34 514.5,902.36 515,903.01 515.5,901.99 516,903.34 516.5,903.27 517,903.01 517.5,902.64 518,902.49 518.5,903.08 519,902.39 519.5,902.69 520,903.05 520.5,903.25 521,902.92 521.5,903.62 522,903.66 522.5,903.02 523,903.16 523.5,903.19 524,902.65 524.5,902.67 525,902.63 525.5,902.66 526,902.9 526.5,903.51 527,903.8 527.5,903.36 528,902.6 528.5,902.97 529,903.49 529.5,902.89 530,903.5 530.5,903.72 531,902.65 531.5,903.4 532,903.8 532.5,903.9 533,903.18 533.5,903.58 534,903.59 534.5,903.6 535,903.35 535.5,903.95 536,904 536.5,903.41 537,903.59 537.5,903.64 538,903.54 538.5,903.85 539,903.99 539.5,903.85 540,903.87 540.5,903.87 541,903.8 541.5,903.37 542,903.76 542.5,904.05 543,904.13 543.5,903.56 544,903.19 544.5,904.08 545,903.97 545.5,903.65 546,904.07 546.5,903.99 547,903.56 547.5,903.24 548,903.24 548.5,903.25 549,903.25 549.5,903.71 550,903.75 550.5,902.86 551,902.86 551.5,902.87 552,903.19 552.5,903.56 553,903.81 553.5,903.48 554,903.74 554.5,902.95 555,903.97 555.5,904.25 556,904.17 556.5,898.93 557,898.93 557.5,898.94 558,903.45 558.5,903.3 559,903.72 559.5,904.23 560,903.75 560.5,903.95 561,904.41 561.5,903.44 562,904.27 562.5,903.8 563,904.26 563.5,904.3 564,904.02 564.5,904.33 565,904.35 565.5,902.21 566,902.21 566.5,902.22 567,902.23 567.5,904.48 568,903.8 568.5,904.04 569,904.42 569.5,904.38 570,904.38 570.5,904.51 571,903.97 571.5,904.85 572,904.14 572.5,904.81 573,904.3 573.5,904.49 574,905 574.5,904.54 575,904.82 575.5,904.92 576,904.76 576.5,904.93 577,905.16 577.5,903.9 578,903.95 578.5,904 579,905.14 579.5,904.82 580,905.45 580.5,905.6 581,905.67 581.5,905.55 582,903.36 582.5,903.41 583,905.86 583.5,906.01 584,905.77 584.5,904.34 585,904.38 585.5,904.35 586,905.52 586.5,905.75 587,906 587.5,905.81 588,905.67 588.5,905.92 589,905.11 589.5,904.53 590,905.26 590.5,905.49 591,904.9 591.5,906.02 592,905.83 592.5,905.43 593,905.67 593.5,906.99 594,904.91 594.5,905.15 595,905.39 595.5,905.63 596,905.87 596.5,907.87 597,908.12 597,945.69 596.5,945.94 596,946.61 595.5,946.9 595,945.79 594.5,945.83 594,946.11 593.5,946.64 593,946.81 592.5,947.14 592,948 591.5,947.69 591,948.14 590.5,948.17 590,948.1 589.5,948.63 589,948.61 588.5,947.75 588,947.93 587.5,948.1 587,947.6 586.5,948.36 586,948.36 585.5,948.77 585,948.33 584.5,949.04 584,948.33 583.5,948.12 583,948.03 582.5,948.29 582,948.38 581.5,947.69 581,947.54 580.5,948.53 580,947.56 579.5,947.6 579,948.19 578.5,948.11 578,947.92 577.5,947.94 577,948.02 576.5,947.63 576,948.38 575.5,948.26 575,948.41 574.5,947.7 574,948.26 573.5,947.89 573,948.2 572.5,947.68 572,947.62 571.5,947.81 571,947.62 570.5,947.78 570,948.3 569.5,947.82 569,947.59 568.5,948.71 568,948.71 567.5,948.44 567,948.32 566.5,947.8 566,948.03 565.5,948.27 565,948.34 564.5,947.85 564,948.54 563.5,948.4 563,948.98 562.5,947.93 562,948.8 561.5,948.56 561,948.15 560.5,948.22 560,948.34 559.5,948.6 559,948.28 558.5,949.93 558,949.95 557.5,949.96 557,949.98 556.5,948.18 556,948.19 555.5,949.31 555,949.33 554.5,948.77 554,948.99 553.5,948.44 553,948.49 552.5,948.52 552,948.59 551.5,948.18 551,948.96 550.5,948.94 550,948.4 549.5,948.88 549,948.34 548.5,949.57 548,948.26 547.5,948.5 547,948.47 546.5,949.11 546,949.75 545.5,948.33 545,952.51 544.5,952.52 544,952.54 543.5,952.56 543,948.46 542.5,949.54 542,948.79 541.5,949.64 541,949.12 540.5,948.76 540,949.28 539.5,948.57 539,949.09 538.5,948.98 538,949.6 537.5,948.66 537,949.08 536.5,949.4 536,949.07 535.5,948.69 535,949.05 534.5,948.74 534,949.15 533.5,949.08 533,949.09 532.5,949.65 532,949.64 531.5,949.01 531,950.03 530.5,949.81 530,949.34 529.5,949.88 529,949.44 528.5,949.81 528,949.92 527.5,949.29 527,949.12 526.5,949.12 526,949.46 525.5,949.25 525,949.29 524.5,950.35 524,949.71 523.5,949.32 523,949.25 522.5,949.5 522,949.95 521.5,950.21 521,949.94 520.5,949.63 520,950.32 519.5,950.3 519,950.17 518.5,949.83 518,949.99 517.5,950.75 517,949.89 516.5,949.93 516,950.18 515.5,950.33 515,950.19 514.5,949.92 514,950.29 513.5,950.04 513,950.61 512.5,950.66 512,950.15 511.5,950.35 511,950.71 510.5,950.74 510,950.17 509.5,950.16 509,950.29 508.5,950.26 508,950.26 507.5,951.51 507,951.41 506.5,951.45 506,951.48 505.5,951.51 505,950.89 504.5,950.92 504,950.73 503.5,950.84 503,952.6 502.5,952.63 502,952.66 501.5,953.76 501,953.8 500.5,953.83 500,953.86 499.5,953.9 499,952.39 498.5,952.42 498,952.03 497.5,951 497,951.74 496.5,951.11 496,951.13 495.5,951.17 495,951.53 494.5,951.69 494,951.4 493.5,951.85 493,951.55 492.5,951.59 492,951.94 491.5,951.77 491,952.14 490.5,951.72 490,951.48 489.5,952.32 489,952.62 488.5,951.72 488,952.4 487.5,952.37 487,952.01 486.5,952.92 486,951.83 485.5,952.35 485,952.83 484.5,953.53 484,954.04 483.5,954.06 483,954.08 482.5,954.1 482,953.86 481.5,952.19 481,952.29 480.5,951.93 480,952.34 479.5,953.24 479,951.92 478.5,952.14 478,952.19 477.5,953.87 477,953.89 476.5,955.91 476,955.93 475.5,955.95 475,953.38 474.5,952.78 474,952.29 473.5,952.33 473,952.47 472.5,952.88 472,952.58 471.5,952.34 471,952.9 470.5,952.89 470,952.58 469.5,952.71 469,952.51 468.5,953.19 468,952.5 467.5,952.49 467,953.15 466.5,952.67 466,952.58 465.5,952.53 465,952.66 464.5,953.08 464,954.54 463.5,954.56 463,953.04 462.5,953.3 462,953.12 461.5,953.04 461,952.99 460.5,953.11 460,953.17 459.5,953.14 459,953.87 458.5,953.15 458,953.98 457.5,952.97 457,953.56 456.5,953.54 456,953.49 455.5,952.88 455,953.26 454.5,958.43 454,958.43 453.5,958.43 453,958.43 452.5,958.43 452,952.89 451.5,952.96 451,954.35 450.5,953.83 450,953.04 449.5,953.05 449,953.65 448.5,954.57 448,953.33 447.5,953.1 447,954.22 446.5,954.22 446,954.22 445.5,954.22 445,956.5 444.5,956.5 444,953.09 443.5,953.28 443,953.47 442.5,953.14 442,953.22 441.5,953.35 441,953.26 440.5,952.95 440,953.01 439.5,953.51 439,953.31 438.5,953.29 438,953.92 437.5,953.92 437,954.43 436.5,953.92 436,954.05 435.5,953.41 435,953.76 434.5,952.86 434,952.85 433.5,953.52 433,953.24 432.5,953.49 432,953.19 431.5,953.65 431,953.76 430.5,953.32 430,953.4 429.5,953.79 429,953.79 428.5,953.79 428,953.79 427.5,953.17 427,952.89 426.5,953.56 426,953.01 425.5,953.05 425,953.28 424.5,953.4 424,953.01 423.5,953.25 423,953.67 422.5,952.81 422,953.13 421.5,954.36 421,952.99 420.5,952.86 420,953.63 419.5,953.57 419,953.53 418.5,953.51 418,953.24 417.5,953.11 417,953.03 416.5,953.11 416,953.25 415.5,953.38 415,953.22 414.5,953.84 414,954.01 413.5,953.35 413,954.06 412.5,953.98 412,953.12 411.5,953.18 411,953.65 410.5,953.56 410,953.44 409.5,953.64 409,953.58 408.5,953.39 408,953.89 407.5,953.61 407,954.01 406.5,953.57 406,953.66 405.5,953.37 405,953.8 404.5,954.59 404,953.69 403.5,953.62 403,953.55 402.5,953.99 402,953.48 401.5,953.74 401,953.57 400.5,953.62 400,953.86 399.5,954.85 399,955.28 398.5,955.3 398,955.32 397.5,955.33 397,954.22 396.5,954.09 396,953.7 395.5,954.37 395,953.89 394.5,954.61 394,954.01 393.5,954.74 393,954.18 392.5,954.84 392,953.97 391.5,953.87 391,954.4 390.5,954.16 390,954.39 389.5,954.05 389,955.25 388.5,955.27 388,955.29 387.5,955.31 387,954.57 386.5,955.36 386,955.36 385.5,955.16 385,954.24 384.5,956.56 384,956.58 383.5,956.6 383,956.61 382.5,956.63 382,955.57 381.5,954.59 381,954.28 380.5,955.04 380,955.27 379.5,954.86 379,954.98 378.5,954.37 378,954.32 377.5,954.38 377,955.14 376.5,954.8 376,954.67 375.5,954.44 375,955.18 374.5,954.72 374,954.74 373.5,954.49 373,955.23 372.5,954.79 372,954.58 371.5,955.08 371,954.87 370.5,954.55 370,955.09 369.5,954.68 369,955.41 368.5,954.71 368,955.03 367.5,954.85 367,954.91 366.5,954.92 366,955.02 365.5,955.23 365,954.88 364.5,954.71 364,954.85 363.5,955.43 363,955.61 362.5,955.09 362,955.08 361.5,955.78 361,956.2 360.5,955.21 360,955.02 359.5,954.96 359,955.17 358.5,956.1 358,955.31 357.5,955.03 357,955.36 356.5,955.67 356,955.54 355.5,955.13 355,955.05 354.5,955.71 354,955.04 353.5,954.91 353,956.67 352.5,955.27 352,956.25 351.5,955.27 351,955.73 350.5,955.32 350,955.19 349.5,955.92 349,954.98 348.5,955.02 348,955.99 347.5,955.74 347,955.45 346.5,955 346,955.19 345.5,955.32 345,955.16 344.5,955.65 344,955.89 343.5,955.89 343,956.71 342.5,956.71 342,956.71 341.5,955.06 341,957.44 340.5,957.44 340,955.55 339.5,955.11 339,956.01 338.5,955.01 338,954.94 337.5,956.32 337,955.09 336.5,956.08 336,955.11 335.5,955.09 335,956.22 334.5,956.18 334,955.94 333.5,955.49 333,954.91 332.5,955.68 332,955.19 331.5,955.2 331,955.76 330.5,956.1 330,955.76 329.5,955.81 329,955.85 328.5,954.92 328,955.01 327.5,955.13 327,955.41 326.5,954.92 326,956.25 325.5,956.14 325,955.2 324.5,955.23 324,955.56 323.5,955.07 323,955.08 322.5,955.28 322,955.95 321.5,955.25 321,955.58 320.5,955.44 320,955.99 319.5,954.98 319,955.34 318.5,954.92 318,955.44 317.5,955.24 317,955.74 316.5,956.42 316,956.27 315.5,955.57 315,955.63 314.5,955.18 314,955.31 313.5,955.35 313,955.09 312.5,956.68 312,956.68 311.5,956.68 311,955.27 310.5,955.31 310,956.05 309.5,956.11 309,955.44 308.5,955.42 308,955.52 307.5,955.4 307,955.38 306.5,957.2 306,957.2 305.5,957.18 305,955.14 304.5,955.27 304,955.24 303.5,955.65 303,957.2 302.5,957.15 302,956.66 301.5,956.6 301,955.07 300.5,954.37 300,954.72 299.5,955.37 299,954.26 298.5,954.31 298,954.95 297.5,954.73 297,955.22 296.5,955.18 296,955 295.5,954.94 295,954.88 294.5,954.67 294,953.98 293.5,954.23 293,953.86 292.5,953.49 292,953.78 291.5,954.62 291,953.55 290.5,954.1 290,956.12 289.5,956.86 289,956.8 288.5,956.74 288,953.76 287.5,953.32 287,954.55 286.5,954.37 286,954.18 285.5,953.69 285,952.1 284.5,952.08 284,951.78 283.5,952.52 283,952.19 282.5,952.13 282,951.51 281.5,951.33 281,951.43 280.5,950.62 280,950.2 279.5,951.84 279,951.65 278.5,951.46 278,951.28 277.5,951.09 277,949.26 276.5,949.18 276,948.66 275.5,948.84 275,948.9 274.5,947.98 274,948.05 273.5,948.25 273,947.42 272.5,947.86 272,947.65 271.5,946.97 271,947.05 270.5,947.64 270,947.43 269.5,947.21 269,947 268.5,946.79 268,946.57 267.5,945.16 267,945.2 266.5,945.33 266,944.85 265.5,945.08 265,944.74 264.5,944.37 264,944.27 263.5,945.16 263,944.29 262.5,944.58 262,944.91 261.5,944.06 261,944.84 260.5,943.91 260,944.14 259.5,944.51 259,944.39 258.5,943.72 258,943.83 257.5,943.93 257,943.53 256.5,944.16 256,943.59 255.5,943.53 255,943.87 254.5,943.74 254,943.82 253.5,943.27 253,943.3 252.5,943.68 252,944.48 251.5,946.53 251,946.47 250.5,943.37 250,942.88 249.5,943.85 249,943.18 248.5,943.8 248,942.77 247.5,943.77 247,943.29 246.5,943.25 246,943.26 245.5,942.79 245,942.79 244.5,942.91 244,943.33 243.5,944.36 243,943.67 242.5,942.81 242,944.14 241.5,943.27 241,943.7 240.5,942.9 240,943.03 239.5,943.12 239,944.12 238.5,943.67 238,943.42 237.5,944.09 237,943.2 236.5,943.61 236,944.43 235.5,943.82 235,943.16 234.5,943.69 234,943.45 233.5,943.37 233,944.36 232.5,944.33 232,943.86 231.5,943.95 231,943.46 230.5,943.48 230,944.12 229.5,943.43 229,943.91 228.5,943.59 228,945.14 227.5,945.17 227,944.5 226.5,944.52 226,944.54 225.5,944.56 225,944.58 224.5,943.7 224,944.18 223.5,943.89 223,943.94 222.5,943.99 222,943.97 221.5,945.18 221,943.95 220.5,944.15 220,944.03 219.5,944.16 219,944 218.5,944.62 218,944.45 217.5,944.05 217,947.43 216.5,947.45 216,944.63 215.5,944.12 215,944.2 214.5,944.09 214,944.27 213.5,944.82 213,944.75 212.5,944.28 212,944.55 211.5,944.49 211,945.18 210.5,944.8 210,944.24 209.5,944.52 209,944.34 208.5,944.91 208,944.96 207.5,944.95 207,945.32 206.5,944.76 206,944.87 205.5,944.66 205,945.34 204.5,944.79 204,945.44 203.5,945.27 203,945.45 202.5,945.47 202,945.31 201.5,945.33 201,944.59 200.5,944.73 200,945.96 199.5,944.7 199,945.47 198.5,945.48 198,945.5 197.5,945.52 197,946.01 196.5,944.8 196,944.95 195.5,947.15 195,947.17 194.5,945.39 194,944.96 193.5,945.06 193,945.85 192.5,945.66 192,945.71 191.5,945.77 191,946.62 190.5,945.34 190,946.55 189.5,946.61 189,945.57 188.5,946.02 188,946.24 187.5,946.29 187,946.38 186.5,946.4 186,947.15 185.5,945.92 185,946.81 184.5,946.44 184,947.14 183.5,946.66 183,946.48 182.5,946.94 182,947.95 181.5,948.01 181,948.07 180.5,947.17 180,946.41 179.5,946.15 179,946.56 178.5,946.11 178,945.95 177.5,946.08 177,946.11 176.5,946.35 176,946.42 175.5,948.8 175,948.73 174.5,945.89 174,946.09 173.5,947.18 173,947.12 172.5,947.05 172,946.99 171.5,945.64 171,945.81 170.5,945.79 170,945.53 169.5,945.38 169,945.77 168.5,945.29 168,946.23 167.5,945.23 167,945.13 166.5,944.64 166,944.9 165.5,945.61 165,945.57 164.5,945.53 164,945.49 163.5,945.45 163,944.9 162.5,944.43 162,944.13 161.5,945.23 161,944.97 160.5,943.35 160,943.46 159.5,942.8 159,942.95 158.5,942.84 158,943.24 157.5,942.95 157,942.22 156.5,942.03 156,944.78 155.5,944.72 155,944.66 154.5,944.6 154,944.54 153.5,942.4 153,942.61 152.5,942.18 152,941.97 151.5,942.18 151,941.55 150.5,941.54 150,941.34 149.5,941.24 149,941.07 148.5,940.67 148,940.86 147.5,941.88 147,941.28 146.5,941.12 146,940.96 145.5,940.68 145,939.16 144.5,939.08 144,938.35 143.5,937.97 143,937.44 142.5,937.16 142,936.89 141.5,935.97 141,936.16 140.5,936.07 140,935.65 139.5,934.74 139,934.63 138.5,933.52 138,934.08 137.5,933.82 137,935.4 136.5,934.53 136,934.31 135.5,934.16 135,934.33 134.5,935.11 134,936 133.5,935.81 133,937.39 132.5,937.3 132,936.74 131.5,937.36 131,937.69 130.5,938.67 130,938.87 129.5,938.31 129,937.74 128.5,936.07 128,935.74 127.5,935.62 127,935.02 126.5,934.1 126,934.08 125.5,934.43 125,934.57 124.5,934.45 124,934.23 123.5,934.83 123,934.35 122.5,934.42 122,934.03 121.5,934.58 121,934.67 120.5,934.65 120,934.71 119.5,935.17 119,935.13 118.5,935.45 118,937.15 117.5,936.82 117,937.03 116.5,935.67 116,935.14 115.5,934.18 115,934.08 114.5,933.59 114,932.76 113.5,932.85 113,933.4 112.5,932.97 112,933.32 111.5,933.08 111,933.08 110.5,933.08 110,932.96 109.5,933.21 109,933.3 108.5,932.88 108,933.23 107.5,933.34 107,933.46 106.5,933.41 106,932.77 105.5,933.84 105,933.37 104.5,933.13 104,933.43 103.5,933.37 103,933.33 102.5,932.55 102,932.51 101.5,932.63 101,932.72 100.5,932.67 100,932.54 99.5,932.31 99,932.33 98.5,932.54 98,932 97.5,932.12 97,931.58 96.5,931.44 96,931.19 95.5,931.26 95,930.77 94.5,930.2 94,930.46 93.5,930.81 93,930.89 92.5,931.91 92,932.33 91.5,932.92 91,933.51 90.5,933.34 90,934.16 89.5,934.66 89,935.29 88.5,935.39 88,935.68 87.5,936.49 87,936.23 86.5,936.91 86,936.37 85.5,936.05 85,936.07 84.5,936.29 84,936.45 83.5,935.95 83,935.94 82.5,935.39 82,933.81 81.5,932.17"/>
<polyline clip-path="url(#c4)" fill="none" stroke="#1f77b4" stroke-width="1.8" stroke-linejoin="round" stroke-linecap="butt" points="82.4,924.5 82.4,931"/>
<polyline clip-path="url(#c4)" fill="none" stroke="#1f77b4" stroke-width="1.8" stroke-linejoin="round" stroke-linecap="butt" points="113.2,913 113.2,940.5"/>
<polyline clip-path="url(#c4)" fill="none" stroke="#1f77b4" stroke-width="1.8" stroke-linejoin="round" stroke-linecap="butt" points="129.3,904 129.3,938.2"/>
<polyline clip-path="url(#c4)" fill="none" stroke="#1f77b4" stroke-width="1.8" stroke-linejoin="round" stroke-linecap="butt" points="142.3,849.5 142.3,997.5"/>
<polyline clip-path="url(#c4)" fill="none" stroke="#1f77b4" stroke-width="1.7" stroke-linejoin="round"  points="597,905.43 597.8,950.99 598.6,883.15 599.4,957.17 600.2,888.41 601,958.83 601.8,901.44 602.6,944.21 603.4,899.24 604.2,940.62 605,904.46 605.8,935.35 606.6,906.06 607.4,929.68 608.2,911.13 609,932.55 609.8,911.63 610.6,934.29 611.4,915.71 612.2,950.34 613,906.58 613.8,970.57 614.6,893.95 615.4,941.11 616.2,902.29 617,937.63 617.8,917.22 618.6,934.34 619.4,923.97 620.2,928.33"/>
<polyline clip-path="url(#c4)" fill="none" stroke="#1f77b4" stroke-width="2.0" stroke-linejoin="round" stroke-linecap="butt" points="599.1,836.05 599.1,1019.85"/>
<polyline clip-path="url(#c4)" fill="none" stroke="#1f77b4" stroke-width="2.0" stroke-linejoin="round" stroke-linecap="butt" points="605.4,836.05 605.4,1019.85"/>
<polyline clip-path="url(#c4)" fill="none" stroke="#1f77b4" stroke-width="2.0" stroke-linejoin="round" stroke-linecap="butt" points="608.9,836.05 608.9,1019.85"/>
<polyline clip-path="url(#c4)" fill="none" stroke="#1f77b4" stroke-width="2.0" stroke-linejoin="round" stroke-linecap="butt" points="612.4,836.05 612.4,1019.85"/>
<polyline clip-path="url(#c4)" fill="none" stroke="#1f77b4" stroke-width="2.3" stroke-linejoin="round"  points="620.2,927.29 620.8,927.55 621.4,927.64 622,927.21 622.6,927.12 623.2,927.04 623.8,927.73 624.4,927.08 625,926.97 625.6,927.37 626.2,927.56 626.8,926.99 627.4,927.27 628,926.94 628.6,927.13 629.2,927.7 629.8,927.34 630.4,927.23 631,927.32 631.6,927.37 632.2,927.27 632.8,927 633.4,927.01 634,927.8 634.6,927.11 635.2,927.6 635.8,927.12 636.4,927.62 637,927.47 637.6,927.25 638.2,927.8 638.8,927.07 639.4,927.24 640,927.09 640.6,927.11 641.2,927.21 641.8,927.06 642.4,927.22 643,927.69 643.6,926.87 644.2,926.99 644.8,927.06 645.4,927.18 646,927.55 646.6,927.48 647.2,927.42 647.8,927.35 648.4,927.89 649,927.02 649.6,927.01 650.2,927.29 650.8,927.35 651.4,927.24 652,927.09 652.6,926.97 653.2,927.23 653.8,927.12 654.4,927.18 655,927.03 655.6,927.63 656.2,927.41 656.8,927.76 657.4,927.17 658,927.31 658.6,927.24 659.2,927.3 659.8,927.24 660.4,927.26 661,926.81 661.6,927.23 662.2,927.47 662.8,926.82 663.4,927.21 664,927.44 664.6,927.61 665.2,927.28 665.8,927.41 666.4,927.74 667,927.62"/>
<polyline clip-path="url(#c5)" fill="none" stroke="#1f77b4" stroke-width="2.3" stroke-linejoin="round"  points="72.6,1131.5 81.4,1131.3 82.8,1140.8 84.7,1143.6 87.6,1140.8 90.4,1136.1 93.3,1132.7 96.1,1137.5 99,1139.4 101.8,1137.3"/>
<polygon clip-path="url(#c5)" fill="#1f77b4" stroke="#1f77b4" stroke-width="1" stroke-linejoin="miter" points="101.8,1136.53 102.3,1136.14 102.8,1135.59 103.3,1135.76 103.8,1135.27 104.3,1135.15 104.8,1134.11 105.3,1133.8 105.8,1133.49 106.3,1133.16 106.8,1132.82 107.3,1132.35 107.8,1132.33 108.3,1131.83 108.8,1132.17 109.3,1131.58 109.8,1130.73 110.3,1129.99 110.8,1128.8 111.3,1129.09 111.8,1128.03 112.3,1127.9 112.8,1127.13 113.3,1127.15 113.8,1128.47 114.3,1129.53 114.8,1129.23 115.3,1130.48 115.8,1131.73 116.3,1130.75 116.8,1128.28 117.3,1127.36 117.8,1125.9 118.3,1126.33 118.8,1126.36 119.3,1125.49 119.8,1125.49 120.3,1126.47 120.8,1127.58 121.3,1127.52 121.8,1128.21 122.3,1128.31 122.8,1129.03 123.3,1129.88 123.8,1130.26 124.3,1130.36 124.8,1129.97 125.3,1129.63 125.8,1129.81 126.3,1129.47 126.8,1129.05 127.3,1128.43 127.8,1128.2 128.3,1127.73 128.8,1126.67 129.3,1125.48 129.8,1124.83 130.3,1124.17 130.8,1123.28 131.3,1123.55 131.8,1122.11 132.3,1121.29 132.8,1124.04 133.3,1124.84 133.8,1127.39 134.3,1128.61 134.8,1130.53 135.3,1129.64 135.8,1128.54 136.3,1127.41 136.8,1127.26 137.3,1127.05 137.8,1127.59 138.3,1125.82 138.8,1124.12 139.3,1122.42 139.8,1122.69 140.3,1121.2 140.8,1121.21 141.3,1121.02 141.8,1119.72 142.3,1120.86 142.8,1118.52 143.3,1118.68 143.8,1118.84 144.3,1119 144.8,1122.17 145.3,1123.19 145.8,1123.99 146.3,1125.16 146.8,1124.26 147.3,1123.18 147.8,1121.63 148.3,1121.73 148.8,1119.94 149.3,1119.67 149.8,1119.08 150.3,1119.22 150.8,1118.12 151.3,1113.28 151.8,1112.8 152.3,1112.31 152.8,1111.81 153.3,1114.02 153.8,1113.52 154.3,1114.3 154.8,1114.39 155.3,1114.05 155.8,1113.41 156.3,1112.98 156.8,1111.39 157.3,1111.94 157.8,1111.68 158.3,1111.42 158.8,1111.16 159.3,1110.24 159.8,1110.93 160.3,1109.95 160.8,1109.99 161.3,1109.5 161.8,1108 162.3,1107.85 162.8,1107.55 163.3,1106.65 163.8,1106.56 164.3,1107.04 164.8,1105.49 165.3,1105.54 165.8,1105.6 166.3,1105.66 166.8,1105.72 167.3,1106.91 167.8,1106.97 168.3,1107.46 168.8,1106.32 169.3,1107.27 169.8,1106.98 170.3,1107.34 170.8,1107.35 171.3,1106.98 171.8,1107.5 172.3,1107.19 172.8,1107.01 173.3,1107.15 173.8,1107.53 174.3,1107.28 174.8,1105.89 175.3,1107.25 175.8,1107.42 176.3,1107.21 176.8,1105.77 177.3,1106.18 177.8,1107.5 178.3,1106.99 178.8,1107.47 179.3,1107.48 179.8,1107.6 180.3,1107.05 180.8,1108.01 181.3,1107.98 181.8,1108.61 182.3,1108.44 182.8,1108.86 183.3,1109.15 183.8,1109 184.3,1109.22 184.8,1109.28 185.3,1109.65 185.8,1109.22 186.3,1108.11 186.8,1108.16 187.3,1108.2 187.8,1108.25 188.3,1108.3 188.8,1109.38 189.3,1109.81 189.8,1110.03 190.3,1109.93 190.8,1109.94 191.3,1109.93 191.8,1109.28 192.3,1108 192.8,1108.09 193.3,1108.18 193.8,1108.27 194.3,1108.37 194.8,1110.45 195.3,1110.38 195.8,1110.13 196.3,1110.22 196.8,1110.31 197.3,1110.4 197.8,1110.35 198.3,1111.49 198.8,1111.36 199.3,1109.53 199.8,1109.49 200.3,1109.44 200.8,1109.39 201.3,1110.98 201.8,1110.22 202.3,1110.76 202.8,1110.86 203.3,1110.74 203.8,1110.99 204.3,1110.28 204.8,1110.62 205.3,1110.56 205.8,1110.69 206.3,1110.75 206.8,1110.63 207.3,1110.3 207.8,1110.55 208.3,1110.07 208.8,1110.4 209.3,1110.63 209.8,1110.73 210.3,1110.6 210.8,1110.62 211.3,1110.82 211.8,1109.98 212.3,1111.05 212.8,1110.9 213.3,1111.13 213.8,1111.16 214.3,1111.12 214.8,1111.52 215.3,1111.97 215.8,1111.9 216.3,1111.78 216.8,1111.72 217.3,1112.05 217.8,1111.85 218.3,1112.04 218.8,1112.66 219.3,1112.54 219.8,1112.46 220.3,1112.49 220.8,1112.55 221.3,1112.57 221.8,1113.09 222.3,1113.15 222.8,1113.31 223.3,1112.82 223.8,1113.45 224.3,1113.62 224.8,1113.38 225.3,1113.68 225.8,1113.73 226.3,1112.53 226.8,1112.63 227.3,1112.72 227.8,1112.82 228.3,1114.41 228.8,1114.5 229.3,1114.23 229.8,1114.45 230.3,1114.44 230.8,1114.83 231.3,1114.83 231.8,1114.58 232.3,1114.77 232.8,1115.17 233.3,1115.22 233.8,1114.42 234.3,1115.44 234.8,1115.38 235.3,1114.62 235.8,1114.7 236.3,1114.74 236.8,1115.87 237.3,1115.52 237.8,1116 238.3,1115.91 238.8,1115.92 239.3,1115.89 239.8,1116.3 240.3,1115.54 240.8,1116.05 241.3,1116.29 241.8,1116.18 242.3,1115.76 242.8,1115.57 243.3,1116 243.8,1116.22 244.3,1115.05 244.8,1116.08 245.3,1115.55 245.8,1115.43 246.3,1115.43 246.8,1115.87 247.3,1115.32 247.8,1116.08 248.3,1113.66 248.8,1113.64 249.3,1113.61 249.8,1114.46 250.3,1114.43 250.8,1115.54 251.3,1115.46 251.8,1114.53 252.3,1114.14 252.8,1114.12 253.3,1114.09 253.8,1114.07 254.3,1114.61 254.8,1115.03 255.3,1115.73 255.8,1115.22 256.3,1115.67 256.8,1115.65 257.3,1115.49 257.8,1115.1 258.3,1114.69 258.8,1115.15 259.3,1115.14 259.8,1115.39 260.3,1114.86 260.8,1115.43 261.3,1115.43 261.8,1115.32 262.3,1114.91 262.8,1115.1 263.3,1113.84 263.8,1114.65 264.3,1114.46 264.8,1113.81 265.3,1114.41 265.8,1114.39 266.3,1114.36 266.8,1113.67 267.3,1113.31 267.8,1112.96 268.3,1112.26 268.8,1112.47 269.3,1112.75 269.8,1111.6 270.3,1111.27 270.8,1111.59 271.3,1111.23 271.8,1110.8 272.3,1110.68 272.8,1109.59 273.3,1109.24 273.8,1108.88 274.3,1108.55 274.8,1108.31 275.3,1108.4 275.8,1106.98 276.3,1106.74 276.8,1107.72 277.3,1107.33 277.8,1107.65 278.3,1107.25 278.8,1107.33 279.3,1106.96 279.8,1105.52 280.3,1105.91 280.8,1105.39 281.3,1105.57 281.8,1105.06 282.3,1104.95 282.8,1104.86 283.3,1104.25 283.8,1104.16 284.3,1104.31 284.8,1103.9 285.3,1102.85 285.8,1103.44 286.3,1103.05 286.8,1100.4 287.3,1100.16 287.8,1100.06 288.3,1099.97 288.8,1099.87 289.3,1101.89 289.8,1102.4 290.3,1102.4 290.8,1102.29 291.3,1102.5 291.8,1102.44 292.3,1101.58 292.8,1102.07 293.3,1101.4 293.8,1101.88 294.3,1101.82 294.8,1101.73 295.3,1100.89 295.8,1100.7 296.3,1100.94 296.8,1100.54 297.3,1100.65 297.8,1100.46 298.3,1100.46 298.8,1100.36 299.3,1100.85 299.8,1100.12 300.3,1100.46 300.8,1100.64 301.3,1100.42 301.8,1100.47 302.3,1099.94 302.8,1099.66 303.3,1100.25 303.8,1099.45 304.3,1099.36 304.8,1099.91 305.3,1099.25 305.8,1099.16 306.3,1098.68 306.8,1099.07 307.3,1099.16 307.8,1099.36 308.3,1096.36 308.8,1096.31 309.3,1096.26 309.8,1098.75 310.3,1098.93 310.8,1098.96 311.3,1099.18 311.8,1099.11 312.3,1098.09 312.8,1097.47 313.3,1098.14 313.8,1098.96 314.3,1096.23 314.8,1096.18 315.3,1096.14 315.8,1096.09 316.3,1098.71 316.8,1098.45 317.3,1098.62 317.8,1098.13 318.3,1098.08 318.8,1097.57 319.3,1097.72 319.8,1098.21 320.3,1097.96 320.8,1098.31 321.3,1095.97 321.8,1095.93 322.3,1095.88 322.8,1095.83 323.3,1095.78 323.8,1097.33 324.3,1097.28 324.8,1097.24 325.3,1096.53 325.8,1097.14 326.3,1097.77 326.8,1097.63 327.3,1097.73 327.8,1097.8 328.3,1097.48 328.8,1096.62 329.3,1096.61 329.8,1094.7 330.3,1094.7 330.8,1094.7 331.3,1097.37 331.8,1097.29 332.3,1095.76 332.8,1095.76 333.3,1097.55 333.8,1097.23 334.3,1097.71 334.8,1097.48 335.3,1096.96 335.8,1097.68 336.3,1097.1 336.8,1097.77 337.3,1096.64 337.8,1097.54 338.3,1097.03 338.8,1097.04 339.3,1097.04 339.8,1097.04 340.3,1097.05 340.8,1096.4 341.3,1097.89 341.8,1097.44 342.3,1097.31 342.8,1094.54 343.3,1094.55 343.8,1097.85 344.3,1097.48 344.8,1097.08 345.3,1097.86 345.8,1097.27 346.3,1097.72 346.8,1097.07 347.3,1097.18 347.8,1097.62 348.3,1094.9 348.8,1094.9 349.3,1094.91 349.8,1094.91 350.3,1094.91 350.8,1095.27 351.3,1095.27 351.8,1095.17 352.3,1095.17 352.8,1097.75 353.3,1096.89 353.8,1097.12 354.3,1097.44 354.8,1097.1 355.3,1097.83 355.8,1097.91 356.3,1097.47 356.8,1097.64 357.3,1097.24 357.8,1097.7 358.3,1097.72 358.8,1097.69 359.3,1097.78 359.8,1096.89 360.3,1097.39 360.8,1097.13 361.3,1097.56 361.8,1097.4 362.3,1097.82 362.8,1097.34 363.3,1097.52 363.8,1097.51 364.3,1097.67 364.8,1097.5 365.3,1096.48 365.8,1096.48 366.3,1096.47 366.8,1096.46 367.3,1097.66 367.8,1097.21 368.3,1097.49 368.8,1097.43 369.3,1096.66 369.8,1096.98 370.3,1097.83 370.8,1097.37 371.3,1097.66 371.8,1097.56 372.3,1097.45 372.8,1097.67 373.3,1097.08 373.8,1096.74 374.3,1097.35 374.8,1097.73 375.3,1097.41 375.8,1097.56 376.3,1097.57 376.8,1097.02 377.3,1097.46 377.8,1097.33 378.3,1096.89 378.8,1097.57 379.3,1096.37 379.8,1097.44 380.3,1097.54 380.8,1097.74 381.3,1097.74 381.8,1097.09 382.3,1097.41 382.8,1097.21 383.3,1097.2 383.8,1097.61 384.3,1097.5 384.8,1096.84 385.3,1097.49 385.8,1096.27 386.3,1096.27 386.8,1096.26 387.3,1097.1 387.8,1097.44 388.3,1097.69 388.8,1097.62 389.3,1096.62 389.8,1096.61 390.3,1096.61 390.8,1096.6 391.3,1096.11 391.8,1097.59 392.3,1097.51 392.8,1096.92 393.3,1097.37 393.8,1096.36 394.3,1096.35 394.8,1096.12 395.3,1096.11 395.8,1096.11 396.3,1097.26 396.8,1097.46 397.3,1096.74 397.8,1097.27 398.3,1096.96 398.8,1096.83 399.3,1097.63 399.8,1097 400.3,1096.92 400.8,1097.58 401.3,1097.48 401.8,1096.35 402.3,1096.79 402.8,1097.34 403.3,1097.7 403.8,1096.79 404.3,1096.74 404.8,1097.55 405.3,1097.58 405.8,1097.84 406.3,1097.39 406.8,1097.08 407.3,1097.24 407.8,1097.71 408.3,1097.62 408.8,1097.91 409.3,1097.82 409.8,1097.84 410.3,1097.38 410.8,1097.7 411.3,1096.48 411.8,1096.47 412.3,1096.45 412.8,1097.59 413.3,1097.88 413.8,1097.02 414.3,1096.72 414.8,1096.36 415.3,1097.73 415.8,1097.14 416.3,1096.76 416.8,1097.27 417.3,1097.43 417.8,1097.63 418.3,1097.72 418.8,1097.63 419.3,1097.46 419.8,1097.01 420.3,1097.31 420.8,1097.6 421.3,1096.67 421.8,1096.82 422.3,1097.34 422.8,1096.99 423.3,1094.17 423.8,1094.16 424.3,1093.67 424.8,1093.65 425.3,1097.3 425.8,1096.77 426.3,1097.41 426.8,1095.92 427.3,1095.68 427.8,1097.44 428.3,1096.96 428.8,1096.89 429.3,1097.34 429.8,1096.51 430.3,1096.73 430.8,1097.26 431.3,1097.07 431.8,1096.91 432.3,1096.84 432.8,1096.29 433.3,1097.24 433.8,1097.14 434.3,1097.01 434.8,1096.81 435.3,1096.62 435.8,1096.88 436.3,1096.84 436.8,1096.93 437.3,1096.43 437.8,1096.96 438.3,1096.77 438.8,1096.79 439.3,1096.45 439.8,1096.69 440.3,1096.9 440.8,1097.01 441.3,1096.67 441.8,1093.53 442.3,1093.52 442.8,1093.5 443.3,1093.49 443.8,1093.47 444.3,1096.56 444.8,1096.04 445.3,1096.89 445.8,1096.63 446.3,1096.13 446.8,1094.04 447.3,1094.02 447.8,1095.81 448.3,1095.91 448.8,1096.54 449.3,1096.28 449.8,1096.43 450.3,1094.79 450.8,1094.8 451.3,1094.81 451.8,1096.59 452.3,1096.53 452.8,1096.79 453.3,1095.81 453.8,1096.59 454.3,1096.05 454.8,1095.36 455.3,1095.37 455.8,1095.38 456.3,1095.38 456.8,1096.89 457.3,1096.86 457.8,1096.31 458.3,1096.85 458.8,1096.81 459.3,1096.81 459.8,1096.71 460.3,1096.61 460.8,1096.93 461.3,1096.04 461.8,1096.69 462.3,1096.46 462.8,1096.25 463.3,1096.87 463.8,1096.46 464.3,1096.36 464.8,1095.84 465.3,1096.95 465.8,1095.24 466.3,1096.71 466.8,1096.89 467.3,1096.84 467.8,1095.77 468.3,1095.78 468.8,1095.78 469.3,1095.79 469.8,1095.8 470.3,1095.29 470.8,1095.3 471.3,1095.3 471.8,1096.78 472.3,1096.99 472.8,1096.49 473.3,1097.01 473.8,1097.09 474.3,1096.85 474.8,1096.72 475.3,1096.49 475.8,1096.98 476.3,1096.95 476.8,1097.15 477.3,1097.12 477.8,1096.46 478.3,1097.06 478.8,1097.06 479.3,1095.11 479.8,1095.12 480.3,1095.12 480.8,1096.28 481.3,1096.11 481.8,1097.26 482.3,1097.08 482.8,1096.94 483.3,1096.32 483.8,1096.46 484.3,1097.3 484.8,1096.82 485.3,1097.03 485.8,1097.29 486.3,1096.95 486.8,1096.98 487.3,1097.28 487.8,1096.33 488.3,1097.18 488.8,1095.6 489.3,1095.62 489.8,1095.65 490.3,1095.67 490.8,1097.39 491.3,1096.56 491.8,1097.51 492.3,1096.07 492.8,1095.25 493.3,1095.27 493.8,1095.29 494.3,1097.25 494.8,1096.58 495.3,1097.66 495.8,1096.12 496.3,1096.14 496.8,1097.15 497.3,1096.98 497.8,1097.09 498.3,1097.67 498.8,1097.43 499.3,1096.9 499.8,1097.68 500.3,1097.09 500.8,1097.11 501.3,1096.67 501.8,1096.69 502.3,1096.71 502.8,1096.73 503.3,1096.76 503.8,1097.76 504.3,1096.97 504.8,1096.99 505.3,1097.02 505.8,1097.04 506.3,1097.06 506.8,1096.42 507.3,1098 507.8,1097.8 508.3,1097.58 508.8,1097.45 509.3,1097.16 509.8,1097.48 510.3,1098.03 510.8,1097.75 511.3,1098.09 511.8,1098.24 512.3,1097.82 512.8,1097.62 513.3,1098.15 513.8,1097.9 514.3,1098.24 514.8,1097.7 515.3,1098.19 515.8,1098.36 516.3,1098.4 516.8,1098.51 517.3,1098.34 517.8,1097.58 518.3,1097.27 518.8,1097.29 519.3,1097.32 519.8,1096.3 520.3,1096.32 520.8,1096.35 521.3,1096.37 521.8,1098.06 522.3,1098.08 522.8,1098.11 523.3,1098.83 523.8,1098.67 524.3,1098.53 524.8,1098.35 525.3,1098.9 525.8,1098.83 526.3,1097.57 526.8,1098.29 527.3,1098.13 527.8,1099.06 528.3,1097.57 528.8,1098.94 529.3,1098.2 529.8,1098.19 530.3,1098.86 530.8,1099.11 531.3,1099.13 531.8,1098.8 532.3,1098.79 532.8,1099.22 533.3,1098.63 533.8,1098.79 534.3,1098.94 534.8,1099 535.3,1098.96 535.8,1099.01 536.3,1099.17 536.8,1098.56 537.3,1098.8 537.8,1098.79 538.3,1099.16 538.8,1099.37 539.3,1097.03 539.8,1097.05 540.3,1098.31 540.8,1098.99 541.3,1099.47 541.8,1098.11 542.3,1098.13 542.8,1099.68 543.3,1099.42 543.8,1099.19 544.3,1098.91 544.8,1098.93 545.3,1098.95 545.8,1098.97 546.3,1097.92 546.8,1098.81 547.3,1099.7 547.8,1098.38 548.3,1099.56 548.8,1099.28 549.3,1099.83 549.8,1099.12 550.3,1099.76 550.8,1096.87 551.3,1096.89 551.8,1099.16 552.3,1099.64 552.8,1098.65 553.3,1100.02 553.8,1099.36 554.3,1099.85 554.8,1099.68 555.3,1099.7 555.8,1099.73 556.3,1098.61 556.8,1100.23 557.3,1100.27 557.8,1099.86 558.3,1100.04 558.8,1099.98 559.3,1100 559.8,1099.9 560.3,1100.07 560.8,1100.21 561.3,1099.76 561.8,1099.78 562.3,1099.8 562.8,1099.82 563.3,1099.78 563.8,1100.49 564.3,1098.81 564.8,1098.83 565.3,1098.85 565.8,1098.87 566.3,1098.89 566.8,1099.68 567.3,1100.38 567.8,1100 568.3,1100.33 568.8,1099.86 569.3,1100.36 569.8,1099.99 570.3,1100.22 570.8,1100.37 571.3,1100.21 571.8,1100.74 572.3,1100.8 572.8,1100.71 573.3,1100.91 573.8,1100.8 574.3,1099.68 574.8,1099.71 575.3,1099.73 575.8,1097.81 576.3,1097.84 576.8,1097.86 577.3,1097.88 577.8,1100.65 578.3,1100.67 578.8,1100.65 579.3,1100.62 579.8,1100.65 580.3,1100.85 580.8,1100.84 581.3,1100.77 581.8,1100.81 582.3,1099.98 582.8,1100.02 583.3,1100.04 583.8,1100.06 584.3,1100.82 584.8,1100.79 585.3,1098.69 585.8,1098.85 586.3,1099.02 586.8,1099.19 587.3,1099.35 587.8,1100.14 588.3,1101.96 588.8,1099.8 589.3,1099.97 589.8,1102.28 590.3,1101.8 590.8,1103.17 591.3,1102.87 591.8,1103.31 592.3,1103.22 592.8,1103.79 593.3,1103.58 593.8,1104.03 594.3,1104.22 594.8,1104.11 595.3,1102.61 595.8,1102.71 595.8,1151.8 595.3,1151.86 594.8,1152.35 594.3,1152.58 593.8,1153.19 593.3,1153.59 592.8,1154.02 592.3,1154.48 591.8,1155.83 591.3,1156.08 590.8,1156.02 590.3,1156.27 589.8,1155.37 589.3,1156.21 588.8,1155.86 588.3,1157.68 587.8,1157.93 587.3,1156.95 586.8,1156.9 586.3,1156.99 585.8,1157.19 585.3,1157.64 584.8,1158.34 584.3,1157.59 583.8,1157.66 583.3,1159.08 582.8,1159.76 582.3,1159.8 581.8,1159.83 581.3,1159.86 580.8,1158.58 580.3,1158.2 579.8,1158.57 579.3,1158.45 578.8,1158.49 578.3,1158.01 577.8,1158.01 577.3,1159.3 576.8,1158.62 576.3,1158.35 575.8,1159.62 575.3,1159.66 574.8,1159.69 574.3,1159.73 573.8,1159.59 573.3,1160.24 572.8,1160.28 572.3,1159.14 571.8,1158.46 571.3,1159.29 570.8,1158.56 570.3,1159.39 569.8,1158.63 569.3,1159.69 568.8,1159.12 568.3,1158.81 567.8,1159 567.3,1159.17 566.8,1158.95 566.3,1158.79 565.8,1159.65 565.3,1158.97 564.8,1158.95 564.3,1159.27 563.8,1159.33 563.3,1159.53 562.8,1159.8 562.3,1159.37 561.8,1159.55 561.3,1159.16 560.8,1159.8 560.3,1159.41 559.8,1159.6 559.3,1159.6 558.8,1159.7 558.3,1159.75 557.8,1159.57 557.3,1160.8 556.8,1160.84 556.3,1160.87 555.8,1159.9 555.3,1161.42 554.8,1161.45 554.3,1161.49 553.8,1160.4 553.3,1159.92 552.8,1160.52 552.3,1161.21 551.8,1161.25 551.3,1160.35 550.8,1164.18 550.3,1164.22 549.8,1164.25 549.3,1164.28 548.8,1160.7 548.3,1160.19 547.8,1160.28 547.3,1161.81 546.8,1160.22 546.3,1160.64 545.8,1163.35 545.3,1163.39 544.8,1163.42 544.3,1160.73 543.8,1160.76 543.3,1160.98 542.8,1161.04 542.3,1160.74 541.8,1161.57 541.3,1160.57 540.8,1161.28 540.3,1161.3 539.8,1160.8 539.3,1161.26 538.8,1161.52 538.3,1160.88 537.8,1161.8 537.3,1164.1 536.8,1164.13 536.3,1161.19 535.8,1162.51 535.3,1162.55 534.8,1162.58 534.3,1161.74 533.8,1163.42 533.3,1163.46 532.8,1163.49 532.3,1163.53 531.8,1163.56 531.3,1162.18 530.8,1162.3 530.3,1161.34 529.8,1161.83 529.3,1161.39 528.8,1162.66 528.3,1162.7 527.8,1161.54 527.3,1161.79 526.8,1162.14 526.3,1161.63 525.8,1161.93 525.3,1161.87 524.8,1161.81 524.3,1162.7 523.8,1161.94 523.3,1162.89 522.8,1162.04 522.3,1162.99 521.8,1163.04 521.3,1163.09 520.8,1163.14 520.3,1162.53 519.8,1162.85 519.3,1162.89 518.8,1162.54 518.3,1162.98 517.8,1162.59 517.3,1162.78 516.8,1162.69 516.3,1162.81 515.8,1163.91 515.3,1163.96 514.8,1163.25 514.3,1164.62 513.8,1164.67 513.3,1164.72 512.8,1162.98 512.3,1163.35 511.8,1165.01 511.3,1163.38 510.8,1164.08 510.3,1163.22 509.8,1163.33 509.3,1163.71 508.8,1163.34 508.3,1163.48 507.8,1163.47 507.3,1164.46 506.8,1163.81 506.3,1164.21 505.8,1164.57 505.3,1163.93 504.8,1163.9 504.3,1164.51 503.8,1164.73 503.3,1164.73 502.8,1164.26 502.3,1164.68 501.8,1164.53 501.3,1164.58 500.8,1164.33 500.3,1164.25 499.8,1164.42 499.3,1164.92 498.8,1165.04 498.3,1164.47 497.8,1164.89 497.3,1164.83 496.8,1164.99 496.3,1165.04 495.8,1165.09 495.3,1165.14 494.8,1165.02 494.3,1165.24 493.8,1165.91 493.3,1165.41 492.8,1164.95 492.3,1165.36 491.8,1165.01 491.3,1165.12 490.8,1165.3 490.3,1165.28 489.8,1165.53 489.3,1165.96 488.8,1165.42 488.3,1165.88 487.8,1168.02 487.3,1168.05 486.8,1168.08 486.3,1165.64 485.8,1167.73 485.3,1167.76 484.8,1166.69 484.3,1165.96 483.8,1165.91 483.3,1166.23 482.8,1165.9 482.3,1165.78 481.8,1166.54 481.3,1166.03 480.8,1168.07 480.3,1168.1 479.8,1166.92 479.3,1165.91 478.8,1166.11 478.3,1167.45 477.8,1167.48 477.3,1167.51 476.8,1167.54 476.3,1167.57 475.8,1166.78 475.3,1166.43 474.8,1166.63 474.3,1166.81 473.8,1166.46 473.3,1166.96 472.8,1172.03 472.3,1172.06 471.8,1167.62 471.3,1167.65 470.8,1167.68 470.3,1167.71 469.8,1166.47 469.3,1166.82 468.8,1166.74 468.3,1166.98 467.8,1166.81 467.3,1166.57 466.8,1167.64 466.3,1166.64 465.8,1167.38 465.3,1167.35 464.8,1166.91 464.3,1167.17 463.8,1167.43 463.3,1166.82 462.8,1167.2 462.3,1167.06 461.8,1167.43 461.3,1166.93 460.8,1167.43 460.3,1167.32 459.8,1167.09 459.3,1167.11 458.8,1167.85 458.3,1167.27 457.8,1167.73 457.3,1168.13 456.8,1168.47 456.3,1168.26 455.8,1167.79 455.3,1168.18 454.8,1167.89 454.3,1168.09 453.8,1167.83 453.3,1167.8 452.8,1168.08 452.3,1167.49 451.8,1169.37 451.3,1169.4 450.8,1169.43 450.3,1169.46 449.8,1168.29 449.3,1168.18 448.8,1168.09 448.3,1168.73 447.8,1168.42 447.3,1168.33 446.8,1168.36 446.3,1168.45 445.8,1167.91 445.3,1168.54 444.8,1168.21 444.3,1168.44 443.8,1168.32 443.3,1168.01 442.8,1168.01 442.3,1167.84 441.8,1168.11 441.3,1167.91 440.8,1168.49 440.3,1168.41 439.8,1168.52 439.3,1167.93 438.8,1168.97 438.3,1169.99 437.8,1169.97 437.3,1168.52 436.8,1168.42 436.3,1168.15 435.8,1168.27 435.3,1168.18 434.8,1168.48 434.3,1167.76 433.8,1168.18 433.3,1167.93 432.8,1167.57 432.3,1167.61 431.8,1167.89 431.3,1167.91 430.8,1167.85 430.3,1168.03 429.8,1167.36 429.3,1167.82 428.8,1167.52 428.3,1167.76 427.8,1167.74 427.3,1167.72 426.8,1167.81 426.3,1168.37 425.8,1167.26 425.3,1167.94 424.8,1167.46 424.3,1167.2 423.8,1167.53 423.3,1167.37 422.8,1167.64 422.3,1167.27 421.8,1167.88 421.3,1167.29 420.8,1167.06 420.3,1167.15 419.8,1168.19 419.3,1167.34 418.8,1167.38 418.3,1166.94 417.8,1167.78 417.3,1167.35 416.8,1166.89 416.3,1166.97 415.8,1167.09 415.3,1166.8 414.8,1168.85 414.3,1168.83 413.8,1168.81 413.3,1168.79 412.8,1167.15 412.3,1166.77 411.8,1166.96 411.3,1167.21 410.8,1167.19 410.3,1166.87 409.8,1166.75 409.3,1167.51 408.8,1167.5 408.3,1167.12 407.8,1167.17 407.3,1167.22 406.8,1167.61 406.3,1167.76 405.8,1167.71 405.3,1168.15 404.8,1168.2 404.3,1168.26 403.8,1168.31 403.3,1168.36 402.8,1167.86 402.3,1168.2 401.8,1167.8 401.3,1169.16 400.8,1169.21 400.3,1167.72 399.8,1168.1 399.3,1168.06 398.8,1168.99 398.3,1170.78 397.8,1170.84 397.3,1170.86 396.8,1168.61 396.3,1167.99 395.8,1168.78 395.3,1167.94 394.8,1168.24 394.3,1168.34 393.8,1168.41 393.3,1168.06 392.8,1168.29 392.3,1168.77 391.8,1168.33 391.3,1168.44 390.8,1168.54 390.3,1168.1 389.8,1168.6 389.3,1168.49 388.8,1168.26 388.3,1168.69 387.8,1168.7 387.3,1169.02 386.8,1168.56 386.3,1168.53 385.8,1168.18 385.3,1168.55 384.8,1168.31 384.3,1168.69 383.8,1168.36 383.3,1168.63 382.8,1168.94 382.3,1168.19 381.8,1168.92 381.3,1168.49 380.8,1168.25 380.3,1168.22 379.8,1168.74 379.3,1171.1 378.8,1171.11 378.3,1171.12 377.8,1171.12 377.3,1168.4 376.8,1168.49 376.3,1168.91 375.8,1168.77 375.3,1168.41 374.8,1169.13 374.3,1168.85 373.8,1168.73 373.3,1169.29 372.8,1168.8 372.3,1168.64 371.8,1169.32 371.3,1168.87 370.8,1169.48 370.3,1168.59 369.8,1168.95 369.3,1168.68 368.8,1168.72 368.3,1168.78 367.8,1168.85 367.3,1168.51 366.8,1168.64 366.3,1168.85 365.8,1169.53 365.3,1169.32 364.8,1168.43 364.3,1169.64 363.8,1169.65 363.3,1169.65 362.8,1168.84 362.3,1173.42 361.8,1173.42 361.3,1173.43 360.8,1173.44 360.3,1171.16 359.8,1171.16 359.3,1171.17 358.8,1171.18 358.3,1169.07 357.8,1169.08 357.3,1169.1 356.8,1168.62 356.3,1168.65 355.8,1168.8 355.3,1169.14 354.8,1169.37 354.3,1168.76 353.8,1168.76 353.3,1169.76 352.8,1171.78 352.3,1171.8 351.8,1169.33 351.3,1170.01 350.8,1169.63 350.3,1169.45 349.8,1169.46 349.3,1169.48 348.8,1169.11 348.3,1169.35 347.8,1169.87 347.3,1170.06 346.8,1170.34 346.3,1168.9 345.8,1169.3 345.3,1169.33 344.8,1169.26 344.3,1169.76 343.8,1169.54 343.3,1169.35 342.8,1169.49 342.3,1169.86 341.8,1169.39 341.3,1169.58 340.8,1170.16 340.3,1169.41 339.8,1169.31 339.3,1169.44 338.8,1170.82 338.3,1169.87 337.8,1169.89 337.3,1169.91 336.8,1169.92 336.3,1169.5 335.8,1170.79 335.3,1169.8 334.8,1170.33 334.3,1169.96 333.8,1169.88 333.3,1169.83 332.8,1169.79 332.3,1169.74 331.8,1169.08 331.3,1169.25 330.8,1169.83 330.3,1169.24 329.8,1169.71 329.3,1170.45 328.8,1170.41 328.3,1168.78 327.8,1168.78 327.3,1168.84 326.8,1168.76 326.3,1169.12 325.8,1168.92 325.3,1169.43 324.8,1168.9 324.3,1168.74 323.8,1169.1 323.3,1169.2 322.8,1168.39 322.3,1168.75 321.8,1168.36 321.3,1168.16 320.8,1168.47 320.3,1168.93 319.8,1168.98 319.3,1168.33 318.8,1168.04 318.3,1167.86 317.8,1168.64 317.3,1168.85 316.8,1168.79 316.3,1169.66 315.8,1169.6 315.3,1169.54 314.8,1169.47 314.3,1169.63 313.8,1170.17 313.3,1170.11 312.8,1170.05 312.3,1169.99 311.8,1169.93 311.3,1167.27 310.8,1167.05 310.3,1166.85 309.8,1167.87 309.3,1167.68 308.8,1166.99 308.3,1166.61 307.8,1166.76 307.3,1166.51 306.8,1166.7 306.3,1167.22 305.8,1167.04 305.3,1166.87 304.8,1166.63 304.3,1167.59 303.8,1167.53 303.3,1167.28 302.8,1166.58 302.3,1166.47 301.8,1165.85 301.3,1165.75 300.8,1165.89 300.3,1165.67 299.8,1165.59 299.3,1166.36 298.8,1165.55 298.3,1165.81 297.8,1165.36 297.3,1165.33 296.8,1165.03 296.3,1165.13 295.8,1165.14 295.3,1165.78 294.8,1165.01 294.3,1166.66 293.8,1166.5 293.3,1166.33 292.8,1166.17 292.3,1166.01 291.8,1163.86 291.3,1164.02 290.8,1163.46 290.3,1163.1 289.8,1163.39 289.3,1162.89 288.8,1162.5 288.3,1163.19 287.8,1163.74 287.3,1163.58 286.8,1163.41 286.3,1162.99 285.8,1162.83 285.3,1163.13 284.8,1162.97 284.3,1162.8 283.8,1162.64 283.3,1162.48 282.8,1160.7 282.3,1160.21 281.8,1160.75 281.3,1160.18 280.8,1159.82 280.3,1160.16 279.8,1159.07 279.3,1159.28 278.8,1158.7 278.3,1159.44 277.8,1158.41 277.3,1159.75 276.8,1159.51 276.3,1160.56 275.8,1160.32 275.3,1160.09 274.8,1159.85 274.3,1159.62 273.8,1156.68 273.3,1156.25 272.8,1156.19 272.3,1156.9 271.8,1155.67 271.3,1155.48 270.8,1155.09 270.3,1155.38 269.8,1154.67 269.3,1154.21 268.8,1153.9 268.3,1154.18 267.8,1154.75 267.3,1154.28 266.8,1153.63 266.3,1153.43 265.8,1153.23 265.3,1153.42 264.8,1153.16 264.3,1152.88 263.8,1152.71 263.3,1153.17 262.8,1153.66 262.3,1152.45 261.8,1152.54 261.3,1152.37 260.8,1152.62 260.3,1153.39 259.8,1153.12 259.3,1152.77 258.8,1152.63 258.3,1152.71 257.8,1152.24 257.3,1152.52 256.8,1152.14 256.3,1152.36 255.8,1154.97 255.3,1154.94 254.8,1154.9 254.3,1154.87 253.8,1154.83 253.3,1151.81 252.8,1152.53 252.3,1151.94 251.8,1151.86 251.3,1152.14 250.8,1152.19 250.3,1152.2 249.8,1152.16 249.3,1152.01 248.8,1152.36 248.3,1154.65 247.8,1154.62 247.3,1154.59 246.8,1152.6 246.3,1152.7 245.8,1152.54 245.3,1151.34 244.8,1151.73 244.3,1151.35 243.8,1151.97 243.3,1151.41 242.8,1152.51 242.3,1151.71 241.8,1151.41 241.3,1152.86 240.8,1152.82 240.3,1151.2 239.8,1151.67 239.3,1151.16 238.8,1151.17 238.3,1153.33 237.8,1153.43 237.3,1153.3 236.8,1153.41 236.3,1152.15 235.8,1152.51 235.3,1152.1 234.8,1152.45 234.3,1152.21 233.8,1152.3 233.3,1152.51 232.8,1152.5 232.3,1152.98 231.8,1152.81 231.3,1153.49 230.8,1154.09 230.3,1153.27 229.8,1153.1 229.3,1153.72 228.8,1153.67 228.3,1153.66 227.8,1153.61 227.3,1153.76 226.8,1153.64 226.3,1154.74 225.8,1154.03 225.3,1153.76 224.8,1154.83 224.3,1153.96 223.8,1154.1 223.3,1154.37 222.8,1157.28 222.3,1157.33 221.8,1157.38 221.3,1157.1 220.8,1157.15 220.3,1155.76 219.8,1155.81 219.3,1155.87 218.8,1154.7 218.3,1154.86 217.8,1155.95 217.3,1156 216.8,1156.05 216.3,1156.1 215.8,1156.15 215.3,1154.89 214.8,1155.42 214.3,1155.23 213.8,1155.38 213.3,1155.27 212.8,1155.76 212.3,1156.41 211.8,1155.25 211.3,1155.94 210.8,1155.73 210.3,1155.34 209.8,1155.92 209.3,1155.8 208.8,1155.82 208.3,1156.4 207.8,1155.61 207.3,1155.96 206.8,1155.71 206.3,1155.77 205.8,1155.76 205.3,1156.43 204.8,1156.51 204.3,1156.24 203.8,1156.87 203.3,1157.05 202.8,1157.08 202.3,1157.1 201.8,1157.13 201.3,1157.16 200.8,1156.19 200.3,1156.8 199.8,1156.32 199.3,1156.4 198.8,1157.47 198.3,1156.67 197.8,1157.78 197.3,1156.39 196.8,1158.64 196.3,1158.71 195.8,1158.79 195.3,1156.77 194.8,1157.31 194.3,1157.64 193.8,1157.38 193.3,1157.46 192.8,1157.6 192.3,1157.67 191.8,1157.61 191.3,1157.48 190.8,1158.27 190.3,1158.05 189.8,1157.9 189.3,1158.04 188.8,1159.07 188.3,1158.06 187.8,1158.12 187.3,1157.97 186.8,1158.45 186.3,1159.18 185.8,1158.33 185.3,1158.22 184.8,1158.3 184.3,1158.36 183.8,1159.07 183.3,1159.13 182.8,1158.68 182.3,1158.82 181.8,1158.98 181.3,1158.64 180.8,1158.99 180.3,1158.78 179.8,1159.61 179.3,1159.03 178.8,1159.04 178.3,1159.66 177.8,1159.67 177.3,1159.3 176.8,1159.48 176.3,1159.34 175.8,1159.53 175.3,1159.41 174.8,1159.79 174.3,1159.55 173.8,1159.19 173.3,1159.03 172.8,1159.51 172.3,1159.05 171.8,1159.64 171.3,1159.72 170.8,1159.03 170.3,1158.84 169.8,1159.08 169.3,1159.2 168.8,1158.7 168.3,1158.67 167.8,1160.34 167.3,1160.26 166.8,1160.18 166.3,1160.1 165.8,1160.02 165.3,1158.17 164.8,1158.32 164.3,1158.02 163.8,1158.42 163.3,1158.24 162.8,1158.2 162.3,1158.19 161.8,1159.85 161.3,1159.68 160.8,1157.59 160.3,1159.96 159.8,1159.79 159.3,1159.62 158.8,1159.44 158.3,1156.25 157.8,1156.29 157.3,1155.91 156.8,1155.96 156.3,1155.7 155.8,1156.42 155.3,1155.95 154.8,1155.57 154.3,1155.93 153.8,1155.91 153.3,1156.9 152.8,1157.36 152.3,1156.68 151.8,1155.81 151.3,1155.89 150.8,1154.95 150.3,1154.28 149.8,1153.67 149.3,1153.3 148.8,1152.23 148.3,1151.98 147.8,1152.24 147.3,1153.16 146.8,1152.73 146.3,1154.04 145.8,1153.75 145.3,1153.78 144.8,1153.38 144.3,1153.23 143.8,1153.66 143.3,1152.54 142.8,1152.68 142.3,1151.79 141.8,1151.48 141.3,1152.3 140.8,1151.93 140.3,1151.56 139.8,1149.9 139.3,1149.27 138.8,1147.31 138.3,1145.4 137.8,1144.6 137.3,1144.93 136.8,1145.21 136.3,1144.18 135.8,1143.56 135.3,1143.55 134.8,1142.41 134.3,1141.52 133.8,1142.58 133.3,1142.91 132.8,1144.95 132.3,1147.4 131.8,1148.56 131.3,1149.71 130.8,1146.28 130.3,1144.09 129.8,1141.49 129.3,1139.51 128.8,1139.21 128.3,1138.22 127.8,1138.58 127.3,1136.66 126.8,1135.93 126.3,1136.11 125.8,1136.54 125.3,1137.37 124.8,1137.52 124.3,1137.86 123.8,1138.37 123.3,1138.75 122.8,1139.68 122.3,1140.21 121.8,1140.74 121.3,1140.33 120.8,1141.47 120.3,1141.56 119.8,1141.36 119.3,1141.39 118.8,1141.64 118.3,1142.73 117.8,1142.52 117.3,1142.59 116.8,1142.75 116.3,1142.36 115.8,1141.86 115.3,1141.42 114.8,1141.24 114.3,1142.12 113.8,1143.2 113.3,1144.77 112.8,1144.21 112.3,1143.26 111.8,1142.32 111.3,1141.37 110.8,1140.44 110.3,1140.72 109.8,1140.8 109.3,1140.42 108.8,1140.7 108.3,1140.68 107.8,1140.26 107.3,1140.35 106.8,1139.79 106.3,1140.27 105.8,1139.49 105.3,1139.1 104.8,1139.58 104.3,1139.13 103.8,1139.05 103.3,1139.47 102.8,1140.38 102.3,1138.64 101.8,1138.11"/>
<polyline clip-path="url(#c5)" fill="none" stroke="#1f77b4" stroke-width="1.8" stroke-linejoin="round" stroke-linecap="butt" points="128.9,1114.2 128.9,1152.2"/>
<polyline clip-path="url(#c5)" fill="none" stroke="#1f77b4" stroke-width="1.8" stroke-linejoin="round" stroke-linecap="butt" points="142.5,1107 142.5,1208.5"/>
<polyline clip-path="url(#c5)" fill="none" stroke="#1f77b4" stroke-width="1.8" stroke-linejoin="round" stroke-linecap="butt" points="181.9,1158 181.9,1162.5"/>
<polyline clip-path="url(#c5)" fill="none" stroke="#1f77b4" stroke-width="1.7" stroke-linejoin="round"  points="596,1109.62 596.8,1151.18 597.6,1094.22 598.4,1168.31 599.2,1082 600,1152.65 600.8,1079.41 601.6,1147.79 602.4,1081.79 603.2,1150.87 604,1096.88 604.8,1162.98 605.6,1104.87 606.4,1153.74 607.2,1103.34 608,1170.36 608.8,1110.52 609.6,1173.38 610.4,1104.23 611.2,1155.79 612,1104.61 612.8,1161.53 613.6,1102.99 614.4,1146.79 615.2,1101.9 616,1141.69 616.8,1096.28 617.6,1134.18 618.4,1107.53"/>
<polyline clip-path="url(#c5)" fill="none" stroke="#1f77b4" stroke-width="2.0" stroke-linejoin="round" stroke-linecap="butt" points="598.6,1039.65 598.6,1223.45"/>
<polyline clip-path="url(#c5)" fill="none" stroke="#1f77b4" stroke-width="2.0" stroke-linejoin="round" stroke-linecap="butt" points="612.2,1039.65 612.2,1223.45"/>
<polyline clip-path="url(#c5)" fill="none" stroke="#1f77b4" stroke-width="2.0" stroke-linejoin="round" stroke-linecap="butt" points="614.3,1039.65 614.3,1223.45"/>
<polyline clip-path="url(#c5)" fill="none" stroke="#1f77b4" stroke-width="2.0" stroke-linejoin="round" stroke-linecap="butt" points="605.4,1039.65 605.4,1166.8"/>
<polyline clip-path="url(#c5)" fill="none" stroke="#1f77b4" stroke-width="2.0" stroke-linejoin="round" stroke-linecap="butt" points="608.9,1039.65 608.9,1179.4"/>
<polyline clip-path="url(#c5)" fill="none" stroke="#1f77b4" stroke-width="2.3" stroke-linejoin="round"  points="618.8,1116.26 619.3,1116.79 619.8,1119.22 620.3,1121.15 620.8,1121.79 621.3,1124.07 621.8,1124.71 622.3,1125.47 622.8,1125.75 623.3,1125.96 623.8,1126.29 624.3,1127.99 624.8,1127.4 625.3,1128.22 625.8,1129.21 626.3,1129.22 626.8,1129.51 627.3,1129.21 627.8,1129.95 628.3,1130.07 628.8,1130.27 629.3,1131.23 629.8,1131.71 630.3,1131.33 630.8,1131.31 631.3,1131.57 631.8,1131.64 632.3,1131.01 632.8,1131.6 633.3,1131.47 633.8,1131.14 634.3,1130.75 634.8,1131.19 635.3,1131.09 635.8,1131.22 636.3,1130.35 636.8,1130.82 637.3,1130.07 637.8,1130.15 638.3,1129.78 638.8,1129.66 639.3,1129.89 639.8,1129.07 640.3,1129.34 640.8,1128.97 641.3,1128.99 641.8,1128.74 642.3,1128.95 642.8,1128.26 643.3,1128.72 643.8,1129.04 644.3,1128.94 644.8,1128.17 645.3,1128.27 645.8,1128.42 646.3,1129.05 646.8,1128.32 647.3,1128.39 647.8,1128.27 648.3,1128.39 648.8,1128.08 649.3,1128.47 649.8,1128.59 650.3,1128.8 650.8,1128.28 651.3,1128.86 651.8,1129.21 652.3,1128.93 652.8,1128.94 653.3,1128.07 653.8,1129.24 654.3,1129.46 654.8,1129.3 655.3,1129.14 655.8,1129.28 656.3,1129.98 656.8,1128.99 657.3,1129.2 657.8,1129.77 658.3,1129.65 658.8,1129.06 659.3,1129.89 659.8,1130.05 660.3,1129.8 660.8,1130.31 661.3,1130.4 661.8,1129.92 662.3,1130.75 662.8,1131.4 663.3,1131.44 663.8,1130.75 664.3,1130.86 664.8,1131.43 665.3,1131.66 665.8,1131.34 666.3,1131.69 666.8,1132.47 667.3,1132.31"/>
<line x1="409.8" x2="409.8" y1="203.45" y2="23.65" stroke="#ffa500" stroke-width="2.3" stroke-dasharray="14.8 3.7 2.3 3.7" stroke-dashoffset="1.3"/>
<line x1="600.25" x2="600.25" y1="203.45" y2="23.65" stroke="#ff0000" stroke-width="2.3" stroke-dasharray="8.5 3.65"/>
<line x1="409.8" x2="409.8" y1="407.05" y2="227.25" stroke="#ffa500" stroke-width="2.3" stroke-dasharray="14.8 3.7 2.3 3.7" stroke-dashoffset="1.3"/>
<line x1="600.25" x2="600.25" y1="407.05" y2="227.25" stroke="#ff0000" stroke-width="2.3" stroke-dasharray="8.5 3.65"/>
<line x1="72.1" x2="667.1" y1="530.95" y2="530.95" stroke="#008000" stroke-width="1.7"/>
<line x1="409.8" x2="409.8" y1="610.65" y2="430.85" stroke="#ffa500" stroke-width="2.3" stroke-dasharray="14.8 3.7 2.3 3.7" stroke-dashoffset="1.3"/>
<line x1="600.25" x2="600.25" y1="610.65" y2="430.85" stroke="#ff0000" stroke-width="2.3" stroke-dasharray="8.5 3.65"/>
<line x1="72.1" x2="667.1" y1="734.55" y2="734.55" stroke="#008000" stroke-width="1.7"/>
<line x1="409.8" x2="409.8" y1="814.25" y2="634.45" stroke="#ffa500" stroke-width="2.3" stroke-dasharray="14.8 3.7 2.3 3.7" stroke-dashoffset="1.3"/>
<line x1="600.25" x2="600.25" y1="814.25" y2="634.45" stroke="#ff0000" stroke-width="2.3" stroke-dasharray="8.5 3.65"/>
<line x1="409.8" x2="409.8" y1="1017.85" y2="838.05" stroke="#ffa500" stroke-width="2.3" stroke-dasharray="14.8 3.7 2.3 3.7" stroke-dashoffset="1.3"/>
<line x1="600.25" x2="600.25" y1="1017.85" y2="838.05" stroke="#ff0000" stroke-width="2.3" stroke-dasharray="8.5 3.65"/>
<line x1="409.8" x2="409.8" y1="1221.45" y2="1041.65" stroke="#ffa500" stroke-width="2.3" stroke-dasharray="14.8 3.7 2.3 3.7" stroke-dashoffset="1.3"/>
<line x1="600.25" x2="600.25" y1="1221.45" y2="1041.65" stroke="#ff0000" stroke-width="2.3" stroke-dasharray="8.5 3.65"/>
<rect x="72.1" y="23.65" width="595" height="179.8" fill="none" stroke="#000" stroke-width="2.0"/>
<text transform="translate(67.9,198.7) scale(1,1.06)" text-anchor="end" font-size="18">0</text>
<text transform="translate(67.9,148.85) scale(1,1.06)" text-anchor="end" font-size="18">50</text>
<text transform="translate(67.9,98.95) scale(1,1.06)" text-anchor="end" font-size="18">100</text>
<text transform="translate(67.9,49.2) scale(1,1.06)" text-anchor="end" font-size="18">150</text>
<text transform="translate(634.8,49.75) scale(1,1.06)" font-size="22">(a)</text>
<rect x="72.1" y="227.25" width="595" height="179.8" fill="none" stroke="#000" stroke-width="2.0"/>
<text transform="translate(67.9,404.79) scale(1,1.06)" text-anchor="end" font-size="18">0</text>
<text transform="translate(67.9,358.91) scale(1,1.06)" text-anchor="end" font-size="18">1</text>
<text transform="translate(67.9,313.03) scale(1,1.06)" text-anchor="end" font-size="18">2</text>
<text transform="translate(67.9,267.15) scale(1,1.06)" text-anchor="end" font-size="18">3</text>
<text transform="translate(634.8,253.35) scale(1,1.06)" font-size="22">(b)</text>
<rect x="72.1" y="430.85" width="595" height="179.8" fill="none" stroke="#000" stroke-width="2.0"/>
<text transform="translate(67.9,608.32) scale(1,1.06)" text-anchor="end" font-size="18">0</text>
<text transform="translate(67.9,557.75) scale(1,1.06)" text-anchor="end" font-size="18">2500</text>
<text transform="translate(67.9,507.19) scale(1,1.06)" text-anchor="end" font-size="18">5000</text>
<text transform="translate(67.9,456.62) scale(1,1.06)" text-anchor="end" font-size="18">7500</text>
<text transform="translate(634.8,456.95) scale(1,1.06)" font-size="22">(c)</text>
<rect x="72.1" y="634.45" width="595" height="179.8" fill="none" stroke="#000" stroke-width="2.0"/>
<text transform="translate(67.9,811.92) scale(1,1.06)" text-anchor="end" font-size="18">0</text>
<text transform="translate(67.9,761.35) scale(1,1.06)" text-anchor="end" font-size="18">2500</text>
<text transform="translate(67.9,710.79) scale(1,1.06)" text-anchor="end" font-size="18">5000</text>
<text transform="translate(67.9,660.22) scale(1,1.06)" text-anchor="end" font-size="18">7500</text>
<text transform="translate(634.8,660.55) scale(1,1.06)" font-size="22">(d)</text>
<rect x="72.1" y="838.05" width="595" height="179.8" fill="none" stroke="#000" stroke-width="2.0"/>
<text transform="translate(67.9,1017.05) scale(1,1.06)" text-anchor="end" font-size="18">−5</text>
<text transform="translate(67.9,934.55) scale(1,1.06)" text-anchor="end" font-size="18">0</text>
<text transform="translate(67.9,852.05) scale(1,1.06)" text-anchor="end" font-size="18">5</text>
<text transform="translate(634.8,864.15) scale(1,1.06)" font-size="22">(e)</text>
<rect x="72.1" y="1041.65" width="595" height="179.8" fill="none" stroke="#000" stroke-width="2.0"/>
<text transform="translate(67.9,1211.58) scale(1,1.06)" text-anchor="end" font-size="18">−2</text>
<text transform="translate(67.9,1138.22) scale(1,1.06)" text-anchor="end" font-size="18">0</text>
<text transform="translate(67.9,1064.85) scale(1,1.06)" text-anchor="end" font-size="18">2</text>
<text transform="translate(634.8,1067.75) scale(1,1.06)" font-size="22">(f)</text>
<text transform="translate(72.1,1238.9) scale(1,1.06)" text-anchor="middle" font-size="18">0.00</text>
<text transform="translate(191.1,1238.9) scale(1,1.06)" text-anchor="middle" font-size="18">0.05</text>
<text transform="translate(310.1,1238.9) scale(1,1.06)" text-anchor="middle" font-size="18">0.10</text>
<text transform="translate(429.1,1238.9) scale(1,1.06)" text-anchor="middle" font-size="18">0.15</text>
<text transform="translate(548.1,1238.9) scale(1,1.06)" text-anchor="middle" font-size="18">0.20</text>
<text transform="translate(667.1,1238.9) scale(1,1.06)" text-anchor="middle" font-size="18">0.25</text>
<text transform="translate(369.6,1260.4) scale(1,1.06)" text-anchor="middle" font-size="18">Time(s)</text>
<text transform="translate(369.6,16.6) scale(1,1.03)" text-anchor="middle" font-size="22">Shot No. # 1056014</text>
<text transform="translate(14.6,113.55) rotate(-90) scale(1,1.06)" text-anchor="middle" font-size="18.5">I<tspan font-size="13.3" dy="5.0">p</tspan><tspan dy="-5.0">(kA)</tspan></text>
<text transform="translate(18.6,317.15) rotate(-90) scale(1,1.06)" text-anchor="middle" font-size="18.5">ECE (a.u.)</text>
<text transform="translate(16.8,520.75) rotate(-90) scale(1,1.06)" text-anchor="middle" font-size="18.5">Poloidal f<tspan font-size="13.3" dy="5.8">Mirnov</tspan><tspan dy="-5.8"> (Hz)</tspan></text>
<text transform="translate(16.8,724.35) rotate(-90) scale(1,1.06)" text-anchor="middle" font-size="18.5">Toroidal f<tspan font-size="13.3" dy="5.8">Mirnov</tspan><tspan dy="-5.8"> (Hz)</tspan></text>
<text transform="translate(18.5,927.95) rotate(-90) scale(1,1.06)" text-anchor="middle" font-size="18.5">Poloidal Mirnov (a.u.)</text>
<text transform="translate(18.5,1131.55) rotate(-90) scale(1,1.06)" text-anchor="middle" font-size="18.5">Toroidal Mirnov (a.u.)</text>
<rect x="81.3" y="126.8" width="139.7" height="67.2" rx="3" ry="3" fill="#fff" fill-opacity="0.8" stroke="#cccccc" stroke-width="1"/>
<line x1="88.6" x2="125.9" y1="141.5" y2="141.5" stroke="#ff0000" stroke-width="2.3" stroke-dasharray="8.5 3.65"/>
<line x1="88.6" x2="125.9" y1="172.5" y2="172.5" stroke="#ffa500" stroke-width="2.3" stroke-dasharray="14.8 3.7 2.3 3.7"/>
<text transform="translate(140.3,147.6) scale(1,1.06)" font-size="18">T<tspan font-size="13" dy="5.6">disruption</tspan></text>
<text transform="translate(140.3,178.3) scale(1,1.06)" font-size="18">T<tspan font-size="13" dy="5.6">warning</tspan></text>
</svg></body></html>
